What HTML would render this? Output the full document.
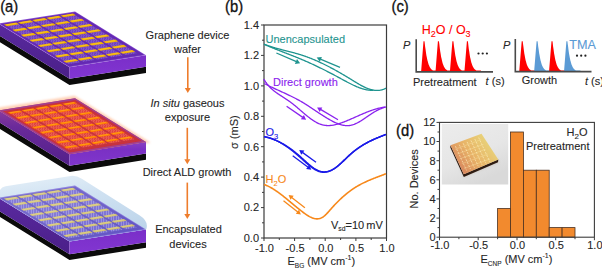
<!DOCTYPE html>
<html><head><meta charset="utf-8"><style>
html,body{margin:0;padding:0;background:#fff;width:602px;height:269px;overflow:hidden}
svg{display:block}
.t{font-family:"Liberation Sans",sans-serif;font-size:11px;fill:#262626;stroke:#262626;stroke-width:0.1px}
.big{font-family:"Liberation Sans",sans-serif;font-size:12.5px}
.lab{font-family:"Liberation Sans",sans-serif;font-size:17.2px;fill:#111;stroke:#111;stroke-width:0.35px}
.lab2{font-family:"Liberation Sans",sans-serif;font-size:17.2px;fill:#111;stroke:#111;stroke-width:0.35px}
</style></head><body>
<svg width="602" height="269" viewBox="0 0 602 269">
<defs>
<linearGradient id="gL1" x1="0" y1="0" x2="0" y2="1"><stop offset="0" stop-color="#5a2aa0"/><stop offset="1" stop-color="#4a1f88"/></linearGradient><filter id="blur1" x="-10%" y="-10%" width="120%" height="120%"><feGaussianBlur stdDeviation="1.2"/></filter><filter id="blur05"><feGaussianBlur stdDeviation="0.5"/></filter>
<linearGradient id="gR1" x1="0" y1="0" x2="0" y2="1"><stop offset="0" stop-color="#7a2ec8"/><stop offset="1" stop-color="#8236d2"/></linearGradient>
<linearGradient id="gL2" x1="0" y1="0" x2="0" y2="1"><stop offset="0" stop-color="#8a3a9e"/><stop offset="0.3" stop-color="#6a2a9a"/><stop offset="1" stop-color="#52208a"/></linearGradient>
<linearGradient id="gR2" x1="0" y1="0" x2="0" y2="1"><stop offset="0" stop-color="#8a40c0"/><stop offset="0.3" stop-color="#7a30c4"/><stop offset="1" stop-color="#8036cc"/></linearGradient>
<linearGradient id="gL3" x1="0" y1="0" x2="1" y2="0"><stop offset="0" stop-color="#5a2a9a"/><stop offset="1" stop-color="#6a2eb0"/></linearGradient>
<linearGradient id="gR3" x1="0" y1="0" x2="1" y2="0"><stop offset="0" stop-color="#7a30c8"/><stop offset="1" stop-color="#8a3ad8"/></linearGradient>
<linearGradient id="gTop2" x1="0" y1="0" x2="1" y2="1"><stop offset="0" stop-color="#d84a3a" stop-opacity="0.6"/><stop offset="1" stop-color="#e05030" stop-opacity="0.6"/></linearGradient>
<pattern id="hat1" width="2.5" height="2.5" patternUnits="userSpaceOnUse"><rect width="2.5" height="2.5" fill="#6c3abc"/><path d="M1.25,0 V2.5 M0,2.5 L2.5,0" stroke="#9a7cd6" stroke-width="0.4"/></pattern>
<pattern id="hat2" width="2.5" height="2.5" patternUnits="userSpaceOnUse"><rect width="2.5" height="2.5" fill="#dc3a3e"/><path d="M1.25,0 V2.5 M0,2.5 L2.5,0" stroke="#f88a68" stroke-width="0.4"/></pattern>
<pattern id="hat3" width="2.5" height="2.5" patternUnits="userSpaceOnUse"><rect width="2.5" height="2.5" fill="#6658cc"/><path d="M1.25,0 V2.5" stroke="#bcbcf2" stroke-width="0.5"/></pattern>
<linearGradient id="photo" x1="0" y1="0" x2="0.5" y2="1"><stop offset="0" stop-color="#ececec"/><stop offset="0.6" stop-color="#e6e6e6"/><stop offset="1" stop-color="#d9d9d9"/></linearGradient>
<linearGradient id="chip" x1="0" y1="0.8" x2="1" y2="0.1"><stop offset="0" stop-color="#d47a5a"/><stop offset="0.45" stop-color="#e8b468"/><stop offset="0.8" stop-color="#e8d078"/><stop offset="1" stop-color="#c8c460"/></linearGradient>
<linearGradient id="glass" x1="0" y1="0" x2="0.3" y2="1"><stop offset="0" stop-color="#e6f0f8"/><stop offset="0.4" stop-color="#d0e2f2"/><stop offset="1" stop-color="#bcd4ea"/></linearGradient>
<linearGradient id="glassTop" x1="0" y1="0" x2="1" y2="1"><stop offset="0" stop-color="#e8f2fb" stop-opacity="0.22"/><stop offset="0.45" stop-color="#ffffff" stop-opacity="0.18"/><stop offset="1" stop-color="#dfeaf8" stop-opacity="0.08"/></linearGradient>
</defs>
<rect x="264.0" y="25.0" width="122.5" height="213.0" fill="none" stroke="#3c3c3c" stroke-width="1.2"/>
<line x1="261.0" y1="238.0" x2="264.0" y2="238.0" stroke="#3c3c3c" stroke-width="1"/>
<line x1="262.0" y1="222.8" x2="264.0" y2="222.8" stroke="#3c3c3c" stroke-width="1"/>
<line x1="261.0" y1="207.6" x2="264.0" y2="207.6" stroke="#3c3c3c" stroke-width="1"/>
<line x1="262.0" y1="192.4" x2="264.0" y2="192.4" stroke="#3c3c3c" stroke-width="1"/>
<line x1="261.0" y1="177.1" x2="264.0" y2="177.1" stroke="#3c3c3c" stroke-width="1"/>
<line x1="262.0" y1="161.9" x2="264.0" y2="161.9" stroke="#3c3c3c" stroke-width="1"/>
<line x1="261.0" y1="146.7" x2="264.0" y2="146.7" stroke="#3c3c3c" stroke-width="1"/>
<line x1="262.0" y1="131.5" x2="264.0" y2="131.5" stroke="#3c3c3c" stroke-width="1"/>
<line x1="261.0" y1="116.3" x2="264.0" y2="116.3" stroke="#3c3c3c" stroke-width="1"/>
<line x1="262.0" y1="101.1" x2="264.0" y2="101.1" stroke="#3c3c3c" stroke-width="1"/>
<line x1="261.0" y1="85.9" x2="264.0" y2="85.9" stroke="#3c3c3c" stroke-width="1"/>
<line x1="262.0" y1="70.6" x2="264.0" y2="70.6" stroke="#3c3c3c" stroke-width="1"/>
<line x1="261.0" y1="55.4" x2="264.0" y2="55.4" stroke="#3c3c3c" stroke-width="1"/>
<line x1="262.0" y1="40.2" x2="264.0" y2="40.2" stroke="#3c3c3c" stroke-width="1"/>
<line x1="261.0" y1="25.0" x2="264.0" y2="25.0" stroke="#3c3c3c" stroke-width="1"/>
<line x1="264.0" y1="238.0" x2="264.0" y2="241.0" stroke="#3c3c3c" stroke-width="1"/>
<line x1="279.3" y1="238.0" x2="279.3" y2="240.0" stroke="#3c3c3c" stroke-width="1"/>
<line x1="294.6" y1="238.0" x2="294.6" y2="241.0" stroke="#3c3c3c" stroke-width="1"/>
<line x1="309.9" y1="238.0" x2="309.9" y2="240.0" stroke="#3c3c3c" stroke-width="1"/>
<line x1="325.2" y1="238.0" x2="325.2" y2="241.0" stroke="#3c3c3c" stroke-width="1"/>
<line x1="340.6" y1="238.0" x2="340.6" y2="240.0" stroke="#3c3c3c" stroke-width="1"/>
<line x1="355.9" y1="238.0" x2="355.9" y2="241.0" stroke="#3c3c3c" stroke-width="1"/>
<line x1="371.2" y1="238.0" x2="371.2" y2="240.0" stroke="#3c3c3c" stroke-width="1"/>
<line x1="386.5" y1="238.0" x2="386.5" y2="241.0" stroke="#3c3c3c" stroke-width="1"/>
<text x="259" y="241.8" text-anchor="end" class="t">0.0</text>
<text x="259" y="211.4" text-anchor="end" class="t">0.2</text>
<text x="259" y="180.9" text-anchor="end" class="t">0.4</text>
<text x="259" y="150.5" text-anchor="end" class="t">0.6</text>
<text x="259" y="120.1" text-anchor="end" class="t">0.8</text>
<text x="259" y="89.7" text-anchor="end" class="t">1.0</text>
<text x="259" y="59.2" text-anchor="end" class="t">1.2</text>
<text x="259" y="28.8" text-anchor="end" class="t">1.4</text>
<text x="264.5" y="251.8" text-anchor="middle" class="t">-1.0</text>
<text x="295.1" y="251.8" text-anchor="middle" class="t">-0.5</text>
<text x="325.8" y="251.8" text-anchor="middle" class="t">0.0</text>
<text x="356.4" y="251.8" text-anchor="middle" class="t">0.5</text>
<text x="387.0" y="251.8" text-anchor="middle" class="t">1.0</text>
<path d="M264.00,44.19 L264.50,44.38 L265.00,44.57 L265.50,44.76 L266.00,44.95 L266.50,45.13 L267.00,45.31 L267.50,45.48 L268.00,45.66 L268.50,45.83 L269.00,46.00 L269.50,46.17 L270.00,46.33 L270.50,46.49 L271.00,46.65 L271.50,46.81 L272.00,46.97 L272.50,47.12 L273.00,47.27 L273.50,47.42 L274.00,47.57 L274.50,47.72 L275.00,47.86 L275.50,48.01 L276.00,48.15 L276.50,48.29 L277.00,48.43 L277.50,48.57 L278.00,48.70 L278.50,48.84 L279.00,48.97 L279.50,49.11 L280.00,49.24 L280.50,49.37 L281.00,49.50 L281.50,49.63 L282.00,49.76 L282.50,49.89 L283.00,50.02 L283.50,50.15 L284.00,50.27 L284.50,50.40 L285.00,50.53 L285.50,50.66 L286.00,50.78 L286.50,50.91 L287.00,51.04 L287.50,51.16 L288.00,51.29 L288.50,51.42 L289.00,51.55 L289.50,51.67 L290.00,51.80 L290.50,51.93 L291.00,52.06 L291.50,52.19 L292.00,52.32 L292.50,52.45 L293.00,52.59 L293.50,52.72 L294.00,52.86 L294.50,52.99 L295.00,53.13 L295.50,53.27 L296.00,53.41 L296.50,53.55 L297.00,53.69 L297.50,53.83 L298.00,53.98 L298.50,54.13 L299.00,54.27 L299.50,54.43 L300.00,54.58 L300.50,54.73 L301.00,54.89 L301.50,55.05 L302.00,55.21 L302.50,55.37 L303.00,55.53 L303.50,55.70 L304.00,55.87 L304.50,56.04 L305.00,56.22 L305.50,56.39 L306.00,56.57 L306.50,56.75 L307.00,56.93 L307.50,57.12 L308.00,57.30 L308.50,57.49 L309.00,57.68 L309.50,57.87 L310.00,58.07 L310.50,58.26 L311.00,58.46 L311.50,58.66 L312.00,58.86 L312.50,59.06 L313.00,59.27 L313.50,59.48 L314.00,59.69 L314.50,59.90 L315.00,60.11 L315.50,60.33 L316.00,60.54 L316.50,60.76 L317.00,60.98 L317.50,61.20 L318.00,61.43 L318.50,61.65 L319.00,61.88 L319.50,62.11 L320.00,62.34 L320.50,62.57 L321.00,62.81 L321.50,63.04 L322.00,63.28 L322.50,63.52 L323.00,63.76 L323.50,64.00 L324.00,64.25 L324.50,64.49 L325.00,64.74 L325.50,64.99 L326.00,65.24 L326.50,65.49 L327.00,65.74 L327.50,65.99 L328.00,66.25 L328.50,66.51 L329.00,66.77 L329.50,67.03 L330.00,67.29 L330.50,67.55 L331.00,67.82 L331.50,68.08 L332.00,68.35 L332.50,68.62 L333.00,68.89 L333.50,69.16 L334.00,69.43 L334.50,69.70 L335.00,69.98 L335.50,70.25 L336.00,70.53 L336.50,70.81 L337.00,71.09 L337.50,71.37 L338.00,71.65 L338.50,71.94 L339.00,72.22 L339.50,72.51 L340.00,72.79 L340.50,73.08 L341.00,73.37 L341.50,73.66 L342.00,73.95 L342.50,74.24 L343.00,74.54 L343.50,74.83 L344.00,75.12 L344.50,75.42 L345.00,75.72 L345.50,76.02 L346.00,76.32 L346.50,76.62 L347.00,76.92 L347.50,77.22 L348.00,77.52 L348.50,77.82 L349.00,78.13 L349.50,78.43 L350.00,78.74 L350.50,79.05 L351.00,79.35 L351.50,79.66 L352.00,79.97 L352.50,80.28 L353.00,80.59 L353.50,80.90 L354.00,81.21 L354.50,81.52 L355.00,81.82 L355.50,82.13 L356.00,82.43 L356.50,82.74 L357.00,83.04 L357.50,83.34 L358.00,83.63 L358.50,83.93 L359.00,84.22 L359.50,84.50 L360.00,84.79 L360.50,85.07 L361.00,85.34 L361.50,85.61 L362.00,85.88 L362.50,86.14 L363.00,86.40 L363.50,86.65 L364.00,86.90 L364.50,87.14 L365.00,87.37 L365.50,87.60 L366.00,87.82 L366.50,88.03 L367.00,88.24 L367.50,88.44 L368.00,88.63 L368.50,88.81 L369.00,88.99 L369.50,89.15 L370.00,89.31 L370.50,89.46 L371.00,89.60 L371.50,89.73 L372.00,89.85 L372.50,89.96 L373.00,90.06 L373.50,90.14 L374.00,90.22 L374.50,90.29 L375.00,90.34 L375.50,90.39 L376.00,90.42 L376.50,90.44 L377.00,90.45 L377.50,90.44 L378.00,90.42 L378.50,90.39 L379.00,90.35 L379.50,90.29 L380.00,90.22 L380.50,90.13 L381.00,90.03 L381.50,89.91 L382.00,89.78 L382.50,89.63 L383.00,89.47 L383.50,89.29 L384.00,89.10 L384.50,88.89 L385.00,88.66 L385.50,88.42 L386.00,88.15" fill="none" stroke="#1f948f" stroke-width="1.3"/>
<path d="M264.00,44.22 L264.50,44.45 L265.00,44.67 L265.50,44.89 L266.00,45.11 L266.50,45.33 L267.00,45.55 L267.50,45.76 L268.00,45.98 L268.50,46.19 L269.00,46.40 L269.50,46.61 L270.00,46.82 L270.50,47.03 L271.00,47.24 L271.50,47.45 L272.00,47.66 L272.50,47.86 L273.00,48.07 L273.50,48.27 L274.00,48.47 L274.50,48.68 L275.00,48.88 L275.50,49.08 L276.00,49.28 L276.50,49.48 L277.00,49.68 L277.50,49.88 L278.00,50.07 L278.50,50.27 L279.00,50.47 L279.50,50.66 L280.00,50.86 L280.50,51.06 L281.00,51.25 L281.50,51.45 L282.00,51.64 L282.50,51.84 L283.00,52.03 L283.50,52.22 L284.00,52.42 L284.50,52.61 L285.00,52.81 L285.50,53.00 L286.00,53.19 L286.50,53.39 L287.00,53.58 L287.50,53.77 L288.00,53.97 L288.50,54.16 L289.00,54.36 L289.50,54.55 L290.00,54.74 L290.50,54.94 L291.00,55.14 L291.50,55.33 L292.00,55.53 L292.50,55.72 L293.00,55.92 L293.50,56.12 L294.00,56.31 L294.50,56.51 L295.00,56.71 L295.50,56.91 L296.00,57.11 L296.50,57.31 L297.00,57.51 L297.50,57.72 L298.00,57.92 L298.50,58.12 L299.00,58.33 L299.50,58.53 L300.00,58.74 L300.50,58.95 L301.00,59.16 L301.50,59.36 L302.00,59.57 L302.50,59.79 L303.00,60.00 L303.50,60.21 L304.00,60.43 L304.50,60.64 L305.00,60.86 L305.50,61.08 L306.00,61.29 L306.50,61.51 L307.00,61.73 L307.50,61.96 L308.00,62.18 L308.50,62.40 L309.00,62.63 L309.50,62.85 L310.00,63.08 L310.50,63.31 L311.00,63.53 L311.50,63.76 L312.00,63.99 L312.50,64.22 L313.00,64.46 L313.50,64.69 L314.00,64.92 L314.50,65.16 L315.00,65.39 L315.50,65.63 L316.00,65.87 L316.50,66.11 L317.00,66.34 L317.50,66.58 L318.00,66.83 L318.50,67.07 L319.00,67.31 L319.50,67.55 L320.00,67.80 L320.50,68.04 L321.00,68.29 L321.50,68.53 L322.00,68.78 L322.50,69.03 L323.00,69.28 L323.50,69.53 L324.00,69.78 L324.50,70.03 L325.00,70.28 L325.50,70.54 L326.00,70.79 L326.50,71.04 L327.00,71.30 L327.50,71.56 L328.00,71.81 L328.50,72.07 L329.00,72.33 L329.50,72.59 L330.00,72.85 L330.50,73.11 L331.00,73.37 L331.50,73.63 L332.00,73.89 L332.50,74.15 L333.00,74.42 L333.50,74.68 L334.00,74.94 L334.50,75.21 L335.00,75.48 L335.50,75.74 L336.00,76.01 L336.50,76.28 L337.00,76.55 L337.50,76.82 L338.00,77.09 L338.50,77.36 L339.00,77.63 L339.50,77.90 L340.00,78.17 L340.50,78.44 L341.00,78.72 L341.50,78.99 L342.00,79.26 L342.50,79.54 L343.00,79.81 L343.50,80.08 L344.00,80.35 L344.50,80.63 L345.00,80.90 L345.50,81.17 L346.00,81.44 L346.50,81.70 L347.00,81.97 L347.50,82.24 L348.00,82.50 L348.50,82.76 L349.00,83.02 L349.50,83.28 L350.00,83.53 L350.50,83.79 L351.00,84.04 L351.50,84.29 L352.00,84.53 L352.50,84.77 L353.00,85.01 L353.50,85.25 L354.00,85.48 L354.50,85.71 L355.00,85.94 L355.50,86.16 L356.00,86.37 L356.50,86.59 L357.00,86.80 L357.50,87.00 L358.00,87.20 L358.50,87.40 L359.00,87.59 L359.50,87.77 L360.00,87.95 L360.50,88.13 L361.00,88.30 L361.50,88.46 L362.00,88.62 L362.50,88.78 L363.00,88.92 L363.50,89.06 L364.00,89.20 L364.50,89.32 L365.00,89.45 L365.50,89.56 L366.00,89.67 L366.50,89.77 L367.00,89.86 L367.50,89.95 L368.00,90.03 L368.50,90.10 L369.00,90.16 L369.50,90.21 L370.00,90.26 L370.50,90.30 L371.00,90.33 L371.50,90.35 L372.00,90.37 L372.50,90.37 L373.00,90.37 L373.50,90.35" fill="none" stroke="#1f948f" stroke-width="1.3"/>
<path d="M264.20,83.47 L264.70,83.73 L265.20,83.99 L265.70,84.25 L266.20,84.51 L266.70,84.76 L267.20,85.01 L267.70,85.26 L268.20,85.51 L268.70,85.76 L269.20,86.01 L269.70,86.25 L270.20,86.49 L270.70,86.73 L271.20,86.97 L271.70,87.21 L272.20,87.45 L272.70,87.68 L273.20,87.92 L273.70,88.15 L274.20,88.39 L274.70,88.62 L275.20,88.85 L275.70,89.08 L276.20,89.31 L276.70,89.54 L277.20,89.77 L277.70,90.00 L278.20,90.23 L278.70,90.45 L279.20,90.68 L279.70,90.91 L280.20,91.14 L280.70,91.36 L281.20,91.59 L281.70,91.82 L282.20,92.05 L282.70,92.27 L283.20,92.50 L283.70,92.73 L284.20,92.96 L284.70,93.19 L285.20,93.42 L285.70,93.65 L286.20,93.88 L286.70,94.12 L287.20,94.35 L287.70,94.59 L288.20,94.82 L288.70,95.06 L289.20,95.30 L289.70,95.54 L290.20,95.78 L290.70,96.02 L291.20,96.26 L291.70,96.51 L292.20,96.75 L292.70,97.00 L293.20,97.25 L293.70,97.50 L294.20,97.76 L294.70,98.01 L295.20,98.27 L295.70,98.53 L296.20,98.79 L296.70,99.06 L297.20,99.32 L297.70,99.59 L298.20,99.87 L298.70,100.14 L299.20,100.42 L299.70,100.70 L300.20,100.98 L300.70,101.26 L301.20,101.55 L301.70,101.84 L302.20,102.13 L302.70,102.43 L303.20,102.73 L303.70,103.03 L304.20,103.34 L304.70,103.65 L305.20,103.96 L305.70,104.27 L306.20,104.59 L306.70,104.90 L307.20,105.22 L307.70,105.55 L308.20,105.87 L308.70,106.19 L309.20,106.52 L309.70,106.85 L310.20,107.18 L310.70,107.51 L311.20,107.84 L311.70,108.17 L312.20,108.50 L312.70,108.84 L313.20,109.17 L313.70,109.51 L314.20,109.84 L314.70,110.18 L315.20,110.51 L315.70,110.85 L316.20,111.18 L316.70,111.52 L317.20,111.85 L317.70,112.18 L318.20,112.52 L318.70,112.85 L319.20,113.18 L319.70,113.51 L320.20,113.84 L320.70,114.17 L321.20,114.49 L321.70,114.82 L322.20,115.14 L322.70,115.46 L323.20,115.78 L323.70,116.10 L324.20,116.41 L324.70,116.73 L325.20,117.04 L325.70,117.34 L326.20,117.65 L326.70,117.95 L327.20,118.25 L327.70,118.55 L328.20,118.84 L328.70,119.13 L329.20,119.42 L329.70,119.70 L330.20,119.98 L330.70,120.26 L331.20,120.53 L331.70,120.80 L332.20,121.06 L332.70,121.32 L333.20,121.58 L333.70,121.83 L334.20,122.07 L334.70,122.31 L335.20,122.54 L335.70,122.77 L336.20,122.99 L336.70,123.20 L337.20,123.41 L337.70,123.61 L338.20,123.80 L338.70,123.99 L339.20,124.16 L339.70,124.33 L340.20,124.49 L340.70,124.64 L341.20,124.78 L341.70,124.91 L342.20,125.03 L342.70,125.14 L343.20,125.24 L343.70,125.33 L344.20,125.41 L344.70,125.48 L345.20,125.54 L345.70,125.59 L346.20,125.62 L346.70,125.64 L347.20,125.65 L347.70,125.64 L348.20,125.63 L348.70,125.60 L349.20,125.55 L349.70,125.49 L350.20,125.42 L350.70,125.33 L351.20,125.23 L351.70,125.11 L352.20,124.98 L352.70,124.84 L353.20,124.68 L353.70,124.50 L354.20,124.32 L354.70,124.12 L355.20,123.91 L355.70,123.69 L356.20,123.46 L356.70,123.22 L357.20,122.97 L357.70,122.71 L358.20,122.44 L358.70,122.16 L359.20,121.88 L359.70,121.58 L360.20,121.28 L360.70,120.98 L361.20,120.66 L361.70,120.35 L362.20,120.02 L362.70,119.70 L363.20,119.37 L363.70,119.03 L364.20,118.70 L364.70,118.36 L365.20,118.01 L365.70,117.67 L366.20,117.33 L366.70,116.98 L367.20,116.63 L367.70,116.29 L368.20,115.95 L368.70,115.60 L369.20,115.26 L369.70,114.92 L370.20,114.59 L370.70,114.25 L371.20,113.92 L371.70,113.60 L372.20,113.28 L372.70,112.96 L373.20,112.65 L373.70,112.35 L374.20,112.05 L374.70,111.76 L375.20,111.48 L375.70,111.20 L376.20,110.93 L376.70,110.67 L377.20,110.41 L377.70,110.16 L378.20,109.91 L378.70,109.67 L379.20,109.44 L379.70,109.21 L380.20,108.99 L380.70,108.78 L381.20,108.57 L381.70,108.37 L382.20,108.18 L382.70,107.99 L383.20,107.81 L383.70,107.63 L384.20,107.46 L384.70,107.30 L385.20,107.15 L385.70,107.00" fill="none" stroke="#8a22ee" stroke-width="1.3"/>
<path d="M263.70,78.99 L264.20,79.80 L264.70,80.57 L265.20,81.32 L265.70,82.05 L266.20,82.74 L266.70,83.41 L267.20,84.06 L267.70,84.68 L268.20,85.28 L268.70,85.86 L269.20,86.41 L269.70,86.95 L270.20,87.47 L270.70,87.97 L271.20,88.45 L271.70,88.92 L272.20,89.37 L272.70,89.81 L273.20,90.24 L273.70,90.65 L274.20,91.05 L274.70,91.43 L275.20,91.81 L275.70,92.18 L276.20,92.55 L276.70,92.90 L277.20,93.25 L277.70,93.59 L278.20,93.93 L278.70,94.27 L279.20,94.60 L279.70,94.93 L280.20,95.26 L280.70,95.58 L281.20,95.91 L281.70,96.23 L282.20,96.56 L282.70,96.88 L283.20,97.20 L283.70,97.53 L284.20,97.85 L284.70,98.18 L285.20,98.51 L285.70,98.84 L286.20,99.17 L286.70,99.50 L287.20,99.84 L287.70,100.18 L288.20,100.53 L288.70,100.88 L289.20,101.23 L289.70,101.59 L290.20,101.95 L290.70,102.32 L291.20,102.69 L291.70,103.07 L292.20,103.45 L292.70,103.84 L293.20,104.24 L293.70,104.64 L294.20,105.04 L294.70,105.45 L295.20,105.86 L295.70,106.28 L296.20,106.70 L296.70,107.12 L297.20,107.54 L297.70,107.97 L298.20,108.40 L298.70,108.83 L299.20,109.26 L299.70,109.69 L300.20,110.12 L300.70,110.55 L301.20,110.98 L301.70,111.41 L302.20,111.84 L302.70,112.27 L303.20,112.70 L303.70,113.13 L304.20,113.55 L304.70,113.97 L305.20,114.39 L305.70,114.81 L306.20,115.22 L306.70,115.63 L307.20,116.03 L307.70,116.44 L308.20,116.83 L308.70,117.22 L309.20,117.61 L309.70,117.99 L310.20,118.37 L310.70,118.73 L311.20,119.10 L311.70,119.45 L312.20,119.80 L312.70,120.14 L313.20,120.47 L313.70,120.80 L314.20,121.12 L314.70,121.42 L315.20,121.72 L315.70,122.01 L316.20,122.29 L316.70,122.56 L317.20,122.82 L317.70,123.07 L318.20,123.31 L318.70,123.54 L319.20,123.75 L319.70,123.96 L320.20,124.15 L320.70,124.33 L321.20,124.49 L321.70,124.64 L322.20,124.78 L322.70,124.91 L323.20,125.03 L323.70,125.13 L324.20,125.22 L324.70,125.30 L325.20,125.37 L325.70,125.43 L326.20,125.48 L326.70,125.51 L327.20,125.54 L327.70,125.55 L328.20,125.56 L328.70,125.55 L329.20,125.54 L329.70,125.52 L330.20,125.48 L330.70,125.44 L331.20,125.39 L331.70,125.34 L332.20,125.27 L332.70,125.20 L333.20,125.11 L333.70,125.02 L334.20,124.93 L334.70,124.82 L335.20,124.71 L335.70,124.60 L336.20,124.47 L336.70,124.34 L337.20,124.21 L337.70,124.07 L338.20,123.92 L338.70,123.77 L339.20,123.61 L339.70,123.45 L340.20,123.29 L340.70,123.12 L341.20,122.94 L341.70,122.76 L342.20,122.58 L342.70,122.40 L343.20,122.21 L343.70,122.02 L344.20,121.82 L344.70,121.63 L345.20,121.43 L345.70,121.23 L346.20,121.03 L346.70,120.82 L347.20,120.62 L347.70,120.41 L348.20,120.20 L348.70,119.99 L349.20,119.78 L349.70,119.56 L350.20,119.35 L350.70,119.13 L351.20,118.92 L351.70,118.70 L352.20,118.48 L352.70,118.26 L353.20,118.04 L353.70,117.82 L354.20,117.60 L354.70,117.38 L355.20,117.16 L355.70,116.94 L356.20,116.72 L356.70,116.49 L357.20,116.27 L357.70,116.05 L358.20,115.83 L358.70,115.61 L359.20,115.39 L359.70,115.17 L360.20,114.95 L360.70,114.74 L361.20,114.52 L361.70,114.30 L362.20,114.09 L362.70,113.87 L363.20,113.66 L363.70,113.45 L364.20,113.24 L364.70,113.03 L365.20,112.83 L365.70,112.62 L366.20,112.42 L366.70,112.22 L367.20,112.02 L367.70,111.83 L368.20,111.63 L368.70,111.44 L369.20,111.25 L369.70,111.06 L370.20,110.88 L370.70,110.70 L371.20,110.52 L371.70,110.34 L372.20,110.17 L372.70,110.00 L373.20,109.84 L373.70,109.67 L374.20,109.51 L374.70,109.36 L375.20,109.20 L375.70,109.06 L376.20,108.91 L376.70,108.77 L377.20,108.63 L377.70,108.50 L378.20,108.37 L378.70,108.24 L379.20,108.12 L379.70,108.01 L380.20,107.90 L380.70,107.79 L381.20,107.69 L381.70,107.59 L382.20,107.50 L382.70,107.41 L383.20,107.33 L383.70,107.25 L384.20,107.18 L384.70,107.11 L385.20,107.05 L385.70,107.00" fill="none" stroke="#8a22ee" stroke-width="1.3"/>
<path d="M264.00,136.63 L264.50,136.73 L265.00,136.83 L265.50,136.94 L266.00,137.05 L266.50,137.17 L267.00,137.30 L267.50,137.43 L268.00,137.56 L268.50,137.70 L269.00,137.84 L269.50,137.99 L270.00,138.15 L270.50,138.31 L271.00,138.47 L271.50,138.64 L272.00,138.82 L272.50,139.00 L273.00,139.18 L273.50,139.37 L274.00,139.57 L274.50,139.77 L275.00,139.97 L275.50,140.18 L276.00,140.40 L276.50,140.62 L277.00,140.85 L277.50,141.08 L278.00,141.31 L278.50,141.55 L279.00,141.79 L279.50,142.04 L280.00,142.30 L280.50,142.56 L281.00,142.82 L281.50,143.09 L282.00,143.37 L282.50,143.65 L283.00,143.93 L283.50,144.22 L284.00,144.51 L284.50,144.81 L285.00,145.11 L285.50,145.42 L286.00,145.73 L286.50,146.05 L287.00,146.37 L287.50,146.70 L288.00,147.03 L288.50,147.37 L289.00,147.71 L289.50,148.05 L290.00,148.40 L290.50,148.76 L291.00,149.12 L291.50,149.48 L292.00,149.85 L292.50,150.22 L293.00,150.60 L293.50,150.98 L294.00,151.37 L294.50,151.76 L295.00,152.16 L295.50,152.56 L296.00,152.97 L296.50,153.38 L297.00,153.79 L297.50,154.21 L298.00,154.64 L298.50,155.06 L299.00,155.50 L299.50,155.93 L300.00,156.38 L300.50,156.82 L301.00,157.27 L301.50,157.72 L302.00,158.18 L302.50,158.63 L303.00,159.09 L303.50,159.54 L304.00,160.00 L304.50,160.46 L305.00,160.91 L305.50,161.37 L306.00,161.82 L306.50,162.27 L307.00,162.71 L307.50,163.15 L308.00,163.59 L308.50,164.02 L309.00,164.45 L309.50,164.87 L310.00,165.28 L310.50,165.69 L311.00,166.09 L311.50,166.48 L312.00,166.86 L312.50,167.23 L313.00,167.59 L313.50,167.94 L314.00,168.28 L314.50,168.60 L315.00,168.92 L315.50,169.22 L316.00,169.51 L316.50,169.78 L317.00,170.04 L317.50,170.29 L318.00,170.52 L318.50,170.73 L319.00,170.93 L319.50,171.10 L320.00,171.26 L320.50,171.41 L321.00,171.53 L321.50,171.63 L322.00,171.72 L322.50,171.79 L323.00,171.84 L323.50,171.88 L324.00,171.89 L324.50,171.89 L325.00,171.87 L325.50,171.84 L326.00,171.78 L326.50,171.71 L327.00,171.63 L327.50,171.53 L328.00,171.41 L328.50,171.27 L329.00,171.12 L329.50,170.95 L330.00,170.77 L330.50,170.57 L331.00,170.35 L331.50,170.12 L332.00,169.88 L332.50,169.62 L333.00,169.34 L333.50,169.05 L334.00,168.74 L334.50,168.42 L335.00,168.09 L335.50,167.74 L336.00,167.38 L336.50,167.01 L337.00,166.62 L337.50,166.23 L338.00,165.82 L338.50,165.40 L339.00,164.98 L339.50,164.55 L340.00,164.11 L340.50,163.66 L341.00,163.20 L341.50,162.74 L342.00,162.28 L342.50,161.81 L343.00,161.34 L343.50,160.86 L344.00,160.38 L344.50,159.90 L345.00,159.42 L345.50,158.94 L346.00,158.45 L346.50,157.97 L347.00,157.49 L347.50,157.02 L348.00,156.54 L348.50,156.07 L349.00,155.60 L349.50,155.14 L350.00,154.69 L350.50,154.24 L351.00,153.79 L351.50,153.36 L352.00,152.93 L352.50,152.50 L353.00,152.09 L353.50,151.68 L354.00,151.27 L354.50,150.88 L355.00,150.49 L355.50,150.10 L356.00,149.72 L356.50,149.35 L357.00,148.99 L357.50,148.62 L358.00,148.27 L358.50,147.92 L359.00,147.58 L359.50,147.24 L360.00,146.91 L360.50,146.58 L361.00,146.26 L361.50,145.94 L362.00,145.62 L362.50,145.32 L363.00,145.01 L363.50,144.71 L364.00,144.42 L364.50,144.13 L365.00,143.84 L365.50,143.56 L366.00,143.29 L366.50,143.01 L367.00,142.74 L367.50,142.48 L368.00,142.22 L368.50,141.96 L369.00,141.70 L369.50,141.45 L370.00,141.20 L370.50,140.96 L371.00,140.72 L371.50,140.48 L372.00,140.24 L372.50,140.01 L373.00,139.78 L373.50,139.55 L374.00,139.33 L374.50,139.10 L375.00,138.88 L375.50,138.66 L376.00,138.45 L376.50,138.23 L377.00,138.02 L377.50,137.81 L378.00,137.60 L378.50,137.40 L379.00,137.19 L379.50,136.99 L380.00,136.78 L380.50,136.58 L381.00,136.38 L381.50,136.18 L382.00,135.98 L382.50,135.78 L383.00,135.59 L383.50,135.39 L384.00,135.19 L384.50,135.00 L385.00,134.80 L385.50,134.61 L386.00,134.41" fill="none" stroke="#1a1ae8" stroke-width="1.5"/>
<path d="M264.00,136.67 L264.50,136.75 L265.00,136.84 L265.50,136.93 L266.00,137.03 L266.50,137.13 L267.00,137.25 L267.50,137.37 L268.00,137.50 L268.50,137.63 L269.00,137.77 L269.50,137.92 L270.00,138.07 L270.50,138.23 L271.00,138.40 L271.50,138.57 L272.00,138.75 L272.50,138.93 L273.00,139.12 L273.50,139.32 L274.00,139.52 L274.50,139.73 L275.00,139.95 L275.50,140.17 L276.00,140.40 L276.50,140.63 L277.00,140.87 L277.50,141.12 L278.00,141.37 L278.50,141.62 L279.00,141.89 L279.50,142.15 L280.00,142.43 L280.50,142.70 L281.00,142.99 L281.50,143.28 L282.00,143.57 L282.50,143.87 L283.00,144.17 L283.50,144.48 L284.00,144.80 L284.50,145.12 L285.00,145.44 L285.50,145.77 L286.00,146.10 L286.50,146.44 L287.00,146.79 L287.50,147.14 L288.00,147.49 L288.50,147.85 L289.00,148.21 L289.50,148.57 L290.00,148.95 L290.50,149.32 L291.00,149.70 L291.50,150.08 L292.00,150.47 L292.50,150.86 L293.00,151.26 L293.50,151.66 L294.00,152.07 L294.50,152.47 L295.00,152.89 L295.50,153.30 L296.00,153.72 L296.50,154.14 L297.00,154.57 L297.50,155.00 L298.00,155.44 L298.50,155.87 L299.00,156.32 L299.50,156.76 L300.00,157.21 L300.50,157.66 L301.00,158.11 L301.50,158.57 L302.00,159.02 L302.50,159.48 L303.00,159.93 L303.50,160.39 L304.00,160.85 L304.50,161.30 L305.00,161.75 L305.50,162.20 L306.00,162.65 L306.50,163.09 L307.00,163.53 L307.50,163.96 L308.00,164.39 L308.50,164.81 L309.00,165.23 L309.50,165.64 L310.00,166.04 L310.50,166.44 L311.00,166.82 L311.50,167.20 L312.00,167.57 L312.50,167.93 L313.00,168.27 L313.50,168.61 L314.00,168.94 L314.50,169.25 L315.00,169.55 L315.50,169.83 L316.00,170.11 L316.50,170.36 L317.00,170.61 L317.50,170.84 L318.00,171.05 L318.50,171.24 L319.00,171.42 L319.50,171.58 L320.00,171.73 L320.50,171.85 L321.00,171.96 L321.50,172.05 L322.00,172.12 L322.50,172.17 L323.00,172.20 L323.50,172.22 L324.00,172.22 L324.50,172.20 L325.00,172.17 L325.50,172.12 L326.00,172.05 L326.50,171.96 L327.00,171.86 L327.50,171.74 L328.00,171.61 L328.50,171.46 L329.00,171.29 L329.50,171.11 L330.00,170.92 L330.50,170.70 L331.00,170.48 L331.50,170.24 L332.00,169.98 L332.50,169.71 L333.00,169.42 L333.50,169.12 L334.00,168.81 L334.50,168.48 L335.00,168.14 L335.50,167.78 L336.00,167.42 L336.50,167.04 L337.00,166.65 L337.50,166.25 L338.00,165.84 L338.50,165.42 L339.00,164.99 L339.50,164.56 L340.00,164.12 L340.50,163.67 L341.00,163.21 L341.50,162.75 L342.00,162.29 L342.50,161.82 L343.00,161.34 L343.50,160.87 L344.00,160.39 L344.50,159.91 L345.00,159.43 L345.50,158.95 L346.00,158.47 L346.50,157.99 L347.00,157.51 L347.50,157.04 L348.00,156.56 L348.50,156.09 L349.00,155.63 L349.50,155.17 L350.00,154.71 L350.50,154.26 L351.00,153.82 L351.50,153.38 L352.00,152.95 L352.50,152.53 L353.00,152.11 L353.50,151.70 L354.00,151.30 L354.50,150.90 L355.00,150.51 L355.50,150.13 L356.00,149.75 L356.50,149.37 L357.00,149.01 L357.50,148.64 L358.00,148.29 L358.50,147.94 L359.00,147.59 L359.50,147.25 L360.00,146.92 L360.50,146.59 L361.00,146.26 L361.50,145.94 L362.00,145.63 L362.50,145.32 L363.00,145.01 L363.50,144.71 L364.00,144.42 L364.50,144.13 L365.00,143.84 L365.50,143.55 L366.00,143.27 L366.50,143.00 L367.00,142.73 L367.50,142.46 L368.00,142.20 L368.50,141.94 L369.00,141.68 L369.50,141.43 L370.00,141.18 L370.50,140.93 L371.00,140.69 L371.50,140.45 L372.00,140.21 L372.50,139.98 L373.00,139.75 L373.50,139.52 L374.00,139.29 L374.50,139.07 L375.00,138.85 L375.50,138.63 L376.00,138.41 L376.50,138.20 L377.00,137.99 L377.50,137.78 L378.00,137.57 L378.50,137.36 L379.00,137.16 L379.50,136.95 L380.00,136.75 L380.50,136.55 L381.00,136.35 L381.50,136.16 L382.00,135.96 L382.50,135.77 L383.00,135.57 L383.50,135.38 L384.00,135.19 L384.50,134.99 L385.00,134.80 L385.50,134.61 L386.00,134.42" fill="none" stroke="#1a1ae8" stroke-width="1.5"/>
<path d="M264.00,184.45 L264.50,184.63 L265.00,184.82 L265.50,185.01 L266.00,185.22 L266.50,185.43 L267.00,185.65 L267.50,185.88 L268.00,186.12 L268.50,186.36 L269.00,186.61 L269.50,186.87 L270.00,187.14 L270.50,187.41 L271.00,187.69 L271.50,187.97 L272.00,188.26 L272.50,188.56 L273.00,188.87 L273.50,189.18 L274.00,189.49 L274.50,189.82 L275.00,190.14 L275.50,190.47 L276.00,190.81 L276.50,191.15 L277.00,191.50 L277.50,191.85 L278.00,192.21 L278.50,192.57 L279.00,192.93 L279.50,193.30 L280.00,193.68 L280.50,194.05 L281.00,194.43 L281.50,194.82 L282.00,195.20 L282.50,195.59 L283.00,195.98 L283.50,196.38 L284.00,196.78 L284.50,197.18 L285.00,197.58 L285.50,197.98 L286.00,198.39 L286.50,198.80 L287.00,199.21 L287.50,199.62 L288.00,200.03 L288.50,200.45 L289.00,200.86 L289.50,201.28 L290.00,201.69 L290.50,202.11 L291.00,202.53 L291.50,202.94 L292.00,203.36 L292.50,203.78 L293.00,204.20 L293.50,204.61 L294.00,205.03 L294.50,205.44 L295.00,205.86 L295.50,206.27 L296.00,206.69 L296.50,207.10 L297.00,207.51 L297.50,207.91 L298.00,208.32 L298.50,208.72 L299.00,209.12 L299.50,209.52 L300.00,209.92 L300.50,210.31 L301.00,210.71 L301.50,211.09 L302.00,211.48 L302.50,211.86 L303.00,212.24 L303.50,212.61 L304.00,212.99 L304.50,213.35 L305.00,213.71 L305.50,214.07 L306.00,214.41 L306.50,214.76 L307.00,215.09 L307.50,215.41 L308.00,215.72 L308.50,216.03 L309.00,216.32 L309.50,216.60 L310.00,216.86 L310.50,217.12 L311.00,217.35 L311.50,217.58 L312.00,217.79 L312.50,217.98 L313.00,218.16 L313.50,218.31 L314.00,218.45 L314.50,218.57 L315.00,218.67 L315.50,218.75 L316.00,218.81 L316.50,218.85 L317.00,218.86 L317.50,218.85 L318.00,218.81 L318.50,218.75 L319.00,218.67 L319.50,218.56 L320.00,218.42 L320.50,218.25 L321.00,218.05 L321.50,217.83 L322.00,217.57 L322.50,217.29 L323.00,216.97 L323.50,216.62 L324.00,216.24 L324.50,215.83 L325.00,215.39 L325.50,214.93 L326.00,214.45 L326.50,213.94 L327.00,213.42 L327.50,212.89 L328.00,212.34 L328.50,211.78 L329.00,211.21 L329.50,210.64 L330.00,210.07 L330.50,209.50 L331.00,208.93 L331.50,208.36 L332.00,207.80 L332.50,207.24 L333.00,206.69 L333.50,206.15 L334.00,205.60 L334.50,205.07 L335.00,204.54 L335.50,204.01 L336.00,203.49 L336.50,202.98 L337.00,202.47 L337.50,201.96 L338.00,201.46 L338.50,200.97 L339.00,200.48 L339.50,199.99 L340.00,199.52 L340.50,199.04 L341.00,198.57 L341.50,198.11 L342.00,197.65 L342.50,197.20 L343.00,196.75 L343.50,196.31 L344.00,195.88 L344.50,195.44 L345.00,195.02 L345.50,194.60 L346.00,194.18 L346.50,193.77 L347.00,193.37 L347.50,192.97 L348.00,192.57 L348.50,192.18 L349.00,191.80 L349.50,191.42 L350.00,191.05 L350.50,190.68 L351.00,190.32 L351.50,189.96 L352.00,189.61 L352.50,189.27 L353.00,188.93 L353.50,188.59 L354.00,188.26 L354.50,187.94 L355.00,187.62 L355.50,187.30 L356.00,187.00 L356.50,186.69 L357.00,186.39 L357.50,186.10 L358.00,185.81 L358.50,185.52 L359.00,185.24 L359.50,184.96 L360.00,184.69 L360.50,184.42 L361.00,184.16 L361.50,183.90 L362.00,183.64 L362.50,183.39 L363.00,183.14 L363.50,182.89 L364.00,182.65 L364.50,182.41 L365.00,182.17 L365.50,181.94 L366.00,181.71 L366.50,181.48 L367.00,181.25 L367.50,181.03 L368.00,180.81 L368.50,180.59 L369.00,180.38 L369.50,180.16 L370.00,179.95 L370.50,179.74 L371.00,179.54 L371.50,179.33 L372.00,179.13 L372.50,178.93 L373.00,178.73 L373.50,178.53 L374.00,178.33 L374.50,178.13 L375.00,177.94 L375.50,177.74 L376.00,177.55 L376.50,177.36 L377.00,177.17 L377.50,176.98 L378.00,176.78 L378.50,176.59 L379.00,176.40 L379.50,176.21 L380.00,176.02 L380.50,175.83 L381.00,175.64 L381.50,175.45 L382.00,175.26 L382.50,175.07 L383.00,174.88 L383.50,174.69 L384.00,174.49 L384.50,174.30 L385.00,174.11 L385.50,173.91 L386.00,173.71" fill="none" stroke="#f7881a" stroke-width="1.6"/>
<line x1="276.4" y1="53.0" x2="296.4" y2="61.7" stroke="#1f948f" stroke-width="1.3"/><polygon points="300.1,63.3 294.9,63.9 297.0,59.1" fill="#1f948f"/>
<line x1="340.0" y1="67.3" x2="320.4" y2="59.1" stroke="#1f948f" stroke-width="1.3"/><polygon points="316.7,57.6 321.9,56.9 319.9,61.7" fill="#1f948f"/>
<line x1="286.6" y1="106.2" x2="302.8" y2="117.4" stroke="#8a22ee" stroke-width="1.3"/><polygon points="306.1,119.7 300.9,119.3 303.9,115.0" fill="#8a22ee"/>
<line x1="338.0" y1="119.7" x2="320.5" y2="109.4" stroke="#8a22ee" stroke-width="1.3"/><polygon points="317.1,107.4 322.3,107.4 319.7,111.9" fill="#8a22ee"/>
<line x1="316.0" y1="162.2" x2="302.4" y2="152.4" stroke="#1a1ae8" stroke-width="1.3"/><polygon points="299.2,150.1 304.4,150.6 301.3,154.8" fill="#1a1ae8"/>
<line x1="292.7" y1="155.7" x2="308.1" y2="167.3" stroke="#1a1ae8" stroke-width="1.3"/><polygon points="311.3,169.7 306.1,169.1 309.3,164.9" fill="#1a1ae8"/>
<line x1="304.9" y1="207.8" x2="291.7" y2="197.5" stroke="#f7881a" stroke-width="1.3"/><polygon points="288.6,195.0 293.7,195.7 290.5,199.8" fill="#f7881a"/>
<line x1="283.5" y1="200.7" x2="297.8" y2="212.1" stroke="#f7881a" stroke-width="1.3"/><polygon points="300.9,214.6 295.8,213.8 299.0,209.8" fill="#f7881a"/>
<text x="265.5" y="43.4" class="t" style="fill:#1f948f;stroke:#1f948f">Unencapsulated</text>
<text x="273" y="85.8" class="t" style="fill:#8a22ee;stroke:#8a22ee">Direct growth</text>
<text x="265.5" y="135.5" class="t" style="fill:#1a1ae8;stroke:#1a1ae8">O<tspan dy="3" font-size="7.5">3</tspan></text>
<text x="265.5" y="183" class="t" style="fill:#f7881a;stroke:#f7881a">H<tspan dy="3" font-size="7.5">2</tspan><tspan dy="-3">O</tspan></text>
<text x="331" y="228.6" class="t">V<tspan dy="2.8" font-size="6.8">sd</tspan><tspan dy="-2.8">=10</tspan><tspan dx="-1">&#160;mV</tspan></text>
<text x="287.5" y="264.5" class="t">E<tspan dy="3" font-size="6.5">BG</tspan><tspan dy="-3"> (MV cm</tspan><tspan dy="-4.5" font-size="7">-1</tspan><tspan dy="4.5">)</tspan></text>
<text transform="translate(237.5,149) rotate(-90)" class="t">σ (mS)</text>
<text transform="translate(225,12.2) scale(0.86,1)" class="lab">(b)</text>
<text x="187.5" y="38.9" text-anchor="middle" class="t">Graphene device</text>
<text x="187.5" y="53.4" text-anchor="middle" class="t">wafer</text>
<text x="187.5" y="106.6" text-anchor="middle" class="t"><tspan font-style="italic">In situ</tspan> gaseous</text>
<text x="187.5" y="120.8" text-anchor="middle" class="t">exposure</text>
<text x="187" y="176" text-anchor="middle" class="t">Direct ALD growth</text>
<text x="188.5" y="233.4" text-anchor="middle" class="t">Encapsulated</text>
<text x="188" y="248.2" text-anchor="middle" class="t">devices</text>
<line x1="187.8" y1="57.3" x2="187.8" y2="88.5" stroke="#ee7d2c" stroke-width="1.6"/><polygon points="187.8,93.0 184.8,88.0 190.8,88.0" fill="#ee7d2c"/>
<line x1="187.3" y1="127.8" x2="187.3" y2="159.8" stroke="#ee7d2c" stroke-width="1.6"/><polygon points="187.3,164.3 184.3,159.3 190.3,159.3" fill="#ee7d2c"/>
<line x1="187.3" y1="182.6" x2="187.3" y2="214.5" stroke="#ee7d2c" stroke-width="1.6"/><polygon points="187.3,219.0 184.3,214.0 190.3,214.0" fill="#ee7d2c"/>
<text transform="translate(0.2,12.2) scale(0.86,1)" class="lab">(a)</text>
<polygon points="-1.50,35.00 69.50,78.80 146.00,66.70 146.00,72.90 69.50,85.00 -1.50,41.20" fill="#0b0b0b" />
<polygon points="-1.50,23.50 69.50,67.30 69.50,78.80 -1.50,35.00" fill="url(#gL1)" />
<polygon points="69.50,67.30 146.00,55.20 146.00,66.70 69.50,78.80" fill="url(#gR1)" />
<polygon points="-1.50,23.50 75.00,11.40 146.00,55.20 69.50,67.30" fill="#8a50d0" />
<polygon points="0.48,24.01 75.15,12.20 144.02,54.69 69.35,66.50" fill="#6429b4" />
<polygon points="6.17,25.36 17.49,23.57 80.21,62.26 68.89,64.05" fill="url(#hat1)" />
<polygon points="3.91,24.40 16.37,22.43 19.25,24.21 6.79,26.18" fill="#f0b000" />
<polygon points="5.84,24.49 15.46,22.97 16.65,23.70 7.02,25.22" fill="#ffd040" opacity="0.6"/>
<polygon points="12.39,29.63 24.84,27.66 27.72,29.44 15.27,31.41" fill="#f0b000" />
<polygon points="14.31,29.72 23.93,28.20 25.12,28.93 15.50,30.45" fill="#ffd040" opacity="0.6"/>
<polygon points="20.86,34.86 33.32,32.89 36.20,34.67 23.74,36.64" fill="#f0b000" />
<polygon points="22.79,34.95 32.41,33.43 33.60,34.16 23.97,35.68" fill="#ffd040" opacity="0.6"/>
<polygon points="29.34,40.09 41.79,38.12 44.67,39.90 32.22,41.87" fill="#f0b000" />
<polygon points="31.26,40.18 40.89,38.66 42.07,39.39 32.45,40.91" fill="#ffd040" opacity="0.6"/>
<polygon points="37.81,45.32 50.27,43.35 53.15,45.12 40.70,47.09" fill="#f0b000" />
<polygon points="39.74,45.41 49.36,43.88 50.55,44.62 40.92,46.14" fill="#ffd040" opacity="0.6"/>
<polygon points="46.29,50.54 58.74,48.57 61.63,50.35 49.17,52.32" fill="#f0b000" />
<polygon points="48.21,50.63 57.84,49.11 59.02,49.84 49.40,51.37" fill="#ffd040" opacity="0.6"/>
<polygon points="54.77,55.77 67.22,53.80 70.10,55.58 57.65,57.55" fill="#f0b000" />
<polygon points="56.69,55.86 66.31,54.34 67.50,55.07 57.88,56.60" fill="#ffd040" opacity="0.6"/>
<polygon points="63.24,61.00 75.70,59.03 78.58,60.81 66.12,62.78" fill="#f0b000" />
<polygon points="65.16,61.09 74.79,59.57 75.98,60.30 66.35,61.82" fill="#ffd040" opacity="0.6"/>
<polygon points="20.33,23.12 31.65,21.33 94.37,60.02 83.05,61.81" fill="url(#hat1)" />
<polygon points="18.06,22.16 30.52,20.19 33.40,21.97 20.95,23.94" fill="#f0b000" />
<polygon points="19.99,22.25 29.61,20.73 30.80,21.46 21.17,22.98" fill="#ffd040" opacity="0.6"/>
<polygon points="26.54,27.39 38.99,25.42 41.88,27.20 29.42,29.17" fill="#f0b000" />
<polygon points="28.46,27.48 38.09,25.96 39.27,26.69 29.65,28.21" fill="#ffd040" opacity="0.6"/>
<polygon points="35.02,32.62 47.47,30.65 50.35,32.43 37.90,34.40" fill="#f0b000" />
<polygon points="36.94,32.71 46.56,31.19 47.75,31.92 38.13,33.44" fill="#ffd040" opacity="0.6"/>
<polygon points="43.49,37.85 55.95,35.88 58.83,37.66 46.37,39.63" fill="#f0b000" />
<polygon points="45.41,37.94 55.04,36.42 56.23,37.15 46.60,38.67" fill="#ffd040" opacity="0.6"/>
<polygon points="51.97,43.08 64.42,41.11 67.30,42.89 54.85,44.86" fill="#f0b000" />
<polygon points="53.89,43.17 63.51,41.65 64.70,42.38 55.08,43.90" fill="#ffd040" opacity="0.6"/>
<polygon points="60.44,48.31 72.90,46.34 75.78,48.11 63.32,50.08" fill="#f0b000" />
<polygon points="62.37,48.40 71.99,46.87 73.18,47.61 63.55,49.13" fill="#ffd040" opacity="0.6"/>
<polygon points="68.92,53.53 81.37,51.56 84.25,53.34 71.80,55.31" fill="#f0b000" />
<polygon points="70.84,53.62 80.47,52.10 81.65,52.83 72.03,54.36" fill="#ffd040" opacity="0.6"/>
<polygon points="77.39,58.76 89.85,56.79 92.73,58.57 80.28,60.54" fill="#f0b000" />
<polygon points="79.32,58.85 88.94,57.33 90.13,58.06 80.50,59.59" fill="#ffd040" opacity="0.6"/>
<polygon points="34.48,20.88 45.80,19.09 108.52,57.78 97.20,59.57" fill="url(#hat1)" />
<polygon points="32.22,19.92 44.67,17.95 47.55,19.73 35.10,21.70" fill="#f0b000" />
<polygon points="34.14,20.01 43.76,18.49 44.95,19.22 35.33,20.75" fill="#ffd040" opacity="0.6"/>
<polygon points="40.69,25.15 53.15,23.18 56.03,24.96 43.57,26.93" fill="#f0b000" />
<polygon points="42.62,25.24 52.24,23.72 53.43,24.45 43.80,25.98" fill="#ffd040" opacity="0.6"/>
<polygon points="49.17,30.38 61.62,28.41 64.50,30.19 52.05,32.16" fill="#f0b000" />
<polygon points="51.09,30.47 60.72,28.95 61.90,29.68 52.28,31.20" fill="#ffd040" opacity="0.6"/>
<polygon points="57.64,35.61 70.10,33.64 72.98,35.42 60.53,37.39" fill="#f0b000" />
<polygon points="59.57,35.70 69.19,34.18 70.38,34.91 60.75,36.43" fill="#ffd040" opacity="0.6"/>
<polygon points="66.12,40.84 78.57,38.87 81.46,40.65 69.00,42.62" fill="#f0b000" />
<polygon points="68.04,40.93 77.67,39.41 78.85,40.14 69.23,41.66" fill="#ffd040" opacity="0.6"/>
<polygon points="74.59,46.07 87.05,44.10 89.93,45.88 77.48,47.85" fill="#f0b000" />
<polygon points="76.52,46.16 86.14,44.64 87.33,45.37 77.71,46.89" fill="#ffd040" opacity="0.6"/>
<polygon points="83.07,51.30 95.52,49.33 98.41,51.10 85.95,53.07" fill="#f0b000" />
<polygon points="84.99,51.39 94.62,49.86 95.80,50.60 86.18,52.12" fill="#ffd040" opacity="0.6"/>
<polygon points="91.55,56.52 104.00,54.56 106.88,56.33 94.43,58.30" fill="#f0b000" />
<polygon points="93.47,56.61 103.09,55.09 104.28,55.82 94.66,57.35" fill="#ffd040" opacity="0.6"/>
<polygon points="48.63,18.64 59.95,16.85 122.67,55.54 111.35,57.33" fill="url(#hat1)" />
<polygon points="46.37,17.69 58.82,15.72 61.71,17.49 49.25,19.46" fill="#f0b000" />
<polygon points="48.29,17.78 57.92,16.25 59.10,16.99 49.48,18.51" fill="#ffd040" opacity="0.6"/>
<polygon points="54.84,22.91 67.30,20.94 70.18,22.72 57.73,24.69" fill="#f0b000" />
<polygon points="56.77,23.00 66.39,21.48 67.58,22.21 57.96,23.74" fill="#ffd040" opacity="0.6"/>
<polygon points="63.32,28.14 75.77,26.17 78.66,27.95 66.20,29.92" fill="#f0b000" />
<polygon points="65.24,28.23 74.87,26.71 76.05,27.44 66.43,28.97" fill="#ffd040" opacity="0.6"/>
<polygon points="71.80,33.37 84.25,31.40 87.13,33.18 74.68,35.15" fill="#f0b000" />
<polygon points="73.72,33.46 83.34,31.94 84.53,32.67 74.91,34.19" fill="#ffd040" opacity="0.6"/>
<polygon points="80.27,38.60 92.73,36.63 95.61,38.41 83.15,40.38" fill="#f0b000" />
<polygon points="82.20,38.69 91.82,37.17 93.01,37.90 83.38,39.42" fill="#ffd040" opacity="0.6"/>
<polygon points="88.75,43.83 101.20,41.86 104.08,43.64 91.63,45.61" fill="#f0b000" />
<polygon points="90.67,43.92 100.29,42.40 101.48,43.13 91.86,44.65" fill="#ffd040" opacity="0.6"/>
<polygon points="97.22,49.06 109.68,47.09 112.56,48.87 100.10,50.84" fill="#f0b000" />
<polygon points="99.15,49.15 108.77,47.63 109.96,48.36 100.33,49.88" fill="#ffd040" opacity="0.6"/>
<polygon points="105.70,54.29 118.15,52.32 121.03,54.09 108.58,56.06" fill="#f0b000" />
<polygon points="107.62,54.38 117.25,52.85 118.43,53.59 108.81,55.11" fill="#ffd040" opacity="0.6"/>
<polygon points="62.78,16.40 74.10,14.61 136.82,53.30 125.50,55.10" fill="url(#hat1)" />
<polygon points="60.52,15.45 72.98,13.48 75.86,15.26 63.40,17.23" fill="#f0b000" />
<polygon points="62.45,15.54 72.07,14.02 73.26,14.75 63.63,16.27" fill="#ffd040" opacity="0.6"/>
<polygon points="69.00,20.68 81.45,18.71 84.33,20.48 71.88,22.45" fill="#f0b000" />
<polygon points="70.92,20.77 80.54,19.24 81.73,19.98 72.11,21.50" fill="#ffd040" opacity="0.6"/>
<polygon points="77.47,25.90 89.93,23.93 92.81,25.71 80.35,27.68" fill="#f0b000" />
<polygon points="79.40,25.99 89.02,24.47 90.21,25.20 80.58,26.73" fill="#ffd040" opacity="0.6"/>
<polygon points="85.95,31.13 98.40,29.16 101.28,30.94 88.83,32.91" fill="#f0b000" />
<polygon points="87.87,31.22 97.50,29.70 98.68,30.43 89.06,31.96" fill="#ffd040" opacity="0.6"/>
<polygon points="94.42,36.36 106.88,34.39 109.76,36.17 97.31,38.14" fill="#f0b000" />
<polygon points="96.35,36.45 105.97,34.93 107.16,35.66 97.53,37.18" fill="#ffd040" opacity="0.6"/>
<polygon points="102.90,41.59 115.35,39.62 118.24,41.40 105.78,43.37" fill="#f0b000" />
<polygon points="104.82,41.68 114.45,40.16 115.63,40.89 106.01,42.41" fill="#ffd040" opacity="0.6"/>
<polygon points="111.38,46.82 123.83,44.85 126.71,46.63 114.26,48.60" fill="#f0b000" />
<polygon points="113.30,46.91 122.92,45.39 124.11,46.12 114.49,47.64" fill="#ffd040" opacity="0.6"/>
<polygon points="119.85,52.05 132.31,50.08 135.19,51.86 122.73,53.83" fill="#f0b000" />
<polygon points="121.77,52.14 131.40,50.62 132.59,51.35 122.96,52.87" fill="#ffd040" opacity="0.6"/>
<polygon points="-6.58,108.45 74.51,95.63 150.48,142.49 69.39,155.32" fill="#ffc8a8" opacity="0.85" filter="url(#blur1)"/>
<polygon points="-1.50,121.90 69.50,165.70 146.00,153.60 146.00,159.80 69.50,171.90 -1.50,128.10" fill="#0b0b0b" />
<polygon points="-1.50,110.40 69.50,154.20 69.50,165.70 -1.50,121.90" fill="url(#gL2)" />
<polygon points="69.50,154.20 146.00,142.10 146.00,153.60 69.50,165.70" fill="url(#gR2)" />
<polygon points="-1.50,110.40 75.00,98.30 146.00,142.10 69.50,154.20" fill="#b04a8a" />
<polygon points="-1.50,110.40 75.00,98.30 146.00,142.10 69.50,154.20" fill="#a4408c" />
<polygon points="2.92,111.35 75.22,99.92 141.96,141.09 69.67,152.52" fill="#c8303c" filter="url(#blur05)"/>
<polygon points="10.02,113.19 20.91,111.46 80.02,147.93 69.12,149.65" fill="url(#hat2)" />
<polygon points="7.87,112.29 19.86,110.39 22.57,112.07 10.59,113.96" fill="#ff7a00" />
<polygon points="9.71,112.37 18.97,110.90 20.09,111.59 10.83,113.06" fill="#ffb828" opacity="0.6"/>
<polygon points="15.86,117.22 27.84,115.32 30.56,117.00 18.58,118.89" fill="#ff7a00" />
<polygon points="17.70,117.30 26.96,115.83 28.08,116.52 18.82,117.99" fill="#ffb828" opacity="0.6"/>
<polygon points="23.85,122.14 35.83,120.25 38.55,121.92 26.56,123.82" fill="#ff7a00" />
<polygon points="25.69,122.22 34.95,120.76 36.07,121.45 26.81,122.91" fill="#ffb828" opacity="0.6"/>
<polygon points="31.84,127.07 43.82,125.18 46.53,126.85 34.55,128.75" fill="#ff7a00" />
<polygon points="33.68,127.15 42.94,125.69 44.05,126.38 34.79,127.84" fill="#ffb828" opacity="0.6"/>
<polygon points="39.82,132.00 51.81,130.10 54.52,131.78 42.54,133.67" fill="#ff7a00" />
<polygon points="41.66,132.08 50.92,130.61 52.04,131.30 42.78,132.77" fill="#ffb828" opacity="0.6"/>
<polygon points="47.81,136.93 59.79,135.03 62.51,136.71 50.53,138.60" fill="#ff7a00" />
<polygon points="49.65,137.01 58.91,135.54 60.03,136.23 50.77,137.70" fill="#ffb828" opacity="0.6"/>
<polygon points="55.80,141.85 67.78,139.96 70.50,141.63 58.51,143.53" fill="#ff7a00" />
<polygon points="57.64,141.93 66.90,140.47 68.02,141.16 58.76,142.62" fill="#ffb828" opacity="0.6"/>
<polygon points="63.79,146.78 75.77,144.89 78.48,146.56 66.50,148.46" fill="#ff7a00" />
<polygon points="65.63,146.86 74.89,145.40 76.00,146.09 66.74,147.55" fill="#ffb828" opacity="0.6"/>
<polygon points="23.63,111.03 34.53,109.31 93.63,145.77 82.74,147.50" fill="url(#hat2)" />
<polygon points="21.49,110.13 33.47,108.24 36.19,109.91 24.21,111.81" fill="#ff7a00" />
<polygon points="23.33,110.21 32.59,108.75 33.71,109.44 24.45,110.90" fill="#ffb828" opacity="0.6"/>
<polygon points="29.48,115.06 41.46,113.17 44.18,114.84 32.19,116.74" fill="#ff7a00" />
<polygon points="31.32,115.14 40.58,113.68 41.70,114.37 32.44,115.83" fill="#ffb828" opacity="0.6"/>
<polygon points="37.47,119.99 49.45,118.09 52.16,119.77 40.18,121.66" fill="#ff7a00" />
<polygon points="39.31,120.07 48.57,118.60 49.68,119.29 40.42,120.76" fill="#ffb828" opacity="0.6"/>
<polygon points="45.45,124.92 57.44,123.02 60.15,124.70 48.17,126.59" fill="#ff7a00" />
<polygon points="47.29,125.00 56.55,123.53 57.67,124.22 48.41,125.69" fill="#ffb828" opacity="0.6"/>
<polygon points="53.44,129.84 65.42,127.95 68.14,129.62 56.16,131.52" fill="#ff7a00" />
<polygon points="55.28,129.92 64.54,128.46 65.66,129.15 56.40,130.61" fill="#ffb828" opacity="0.6"/>
<polygon points="61.43,134.77 73.41,132.88 76.13,134.55 64.14,136.45" fill="#ff7a00" />
<polygon points="63.27,134.85 72.53,133.39 73.65,134.08 64.39,135.54" fill="#ffb828" opacity="0.6"/>
<polygon points="69.42,139.70 81.40,137.80 84.11,139.48 72.13,141.37" fill="#ff7a00" />
<polygon points="71.26,139.78 80.52,138.31 81.63,139.00 72.37,140.47" fill="#ffb828" opacity="0.6"/>
<polygon points="77.40,144.63 89.39,142.73 92.10,144.41 80.12,146.30" fill="#ff7a00" />
<polygon points="79.24,144.71 88.50,143.24 89.62,143.93 80.36,145.40" fill="#ffb828" opacity="0.6"/>
<polygon points="37.25,108.88 48.14,107.16 107.25,143.62 96.36,145.34" fill="url(#hat2)" />
<polygon points="35.11,107.98 47.09,106.09 49.81,107.76 37.82,109.66" fill="#ff7a00" />
<polygon points="36.95,108.06 46.21,106.60 47.33,107.29 38.07,108.75" fill="#ffb828" opacity="0.6"/>
<polygon points="43.09,112.91 55.08,111.01 57.79,112.69 45.81,114.58" fill="#ff7a00" />
<polygon points="44.94,112.99 54.20,111.52 55.31,112.21 46.05,113.68" fill="#ffb828" opacity="0.6"/>
<polygon points="51.08,117.84 63.07,115.94 65.78,117.62 53.80,119.51" fill="#ff7a00" />
<polygon points="52.92,117.92 62.18,116.45 63.30,117.14 54.04,118.61" fill="#ffb828" opacity="0.6"/>
<polygon points="59.07,122.76 71.05,120.87 73.77,122.54 61.79,124.44" fill="#ff7a00" />
<polygon points="60.91,122.84 70.17,121.38 71.29,122.07 62.03,123.53" fill="#ffb828" opacity="0.6"/>
<polygon points="67.06,127.69 79.04,125.80 81.76,127.47 69.77,129.37" fill="#ff7a00" />
<polygon points="68.90,127.77 78.16,126.31 79.28,127.00 70.02,128.46" fill="#ffb828" opacity="0.6"/>
<polygon points="75.04,132.62 87.03,130.72 89.74,132.40 77.76,134.29" fill="#ff7a00" />
<polygon points="76.89,132.70 86.15,131.23 87.26,131.92 78.00,133.39" fill="#ffb828" opacity="0.6"/>
<polygon points="83.03,137.55 95.02,135.65 97.73,137.33 85.75,139.22" fill="#ff7a00" />
<polygon points="84.87,137.63 94.13,136.16 95.25,136.85 85.99,138.32" fill="#ffb828" opacity="0.6"/>
<polygon points="91.02,142.47 103.00,140.58 105.72,142.25 93.74,144.15" fill="#ff7a00" />
<polygon points="92.86,142.55 102.12,141.09 103.24,141.78 93.98,143.24" fill="#ffb828" opacity="0.6"/>
<polygon points="50.87,106.73 61.76,105.00 120.87,141.47 109.97,143.19" fill="url(#hat2)" />
<polygon points="48.72,105.83 60.71,103.93 63.42,105.61 51.44,107.50" fill="#ff7a00" />
<polygon points="50.57,105.91 59.82,104.44 60.94,105.13 51.68,106.60" fill="#ffb828" opacity="0.6"/>
<polygon points="56.71,110.75 68.69,108.86 71.41,110.53 59.43,112.43" fill="#ff7a00" />
<polygon points="58.55,110.83 67.81,109.37 68.93,110.06 59.67,111.52" fill="#ffb828" opacity="0.6"/>
<polygon points="64.70,115.68 76.68,113.79 79.40,115.46 67.42,117.36" fill="#ff7a00" />
<polygon points="66.54,115.76 75.80,114.30 76.92,114.99 67.66,116.45" fill="#ffb828" opacity="0.6"/>
<polygon points="72.69,120.61 84.67,118.71 87.39,120.39 75.40,122.28" fill="#ff7a00" />
<polygon points="74.53,120.69 83.79,119.22 84.91,119.91 75.65,121.38" fill="#ffb828" opacity="0.6"/>
<polygon points="80.67,125.54 92.66,123.64 95.37,125.32 83.39,127.21" fill="#ff7a00" />
<polygon points="82.52,125.62 91.77,124.15 92.89,124.84 83.63,126.31" fill="#ffb828" opacity="0.6"/>
<polygon points="88.66,130.46 100.64,128.57 103.36,130.24 91.38,132.14" fill="#ff7a00" />
<polygon points="90.50,130.54 99.76,129.08 100.88,129.77 91.62,131.23" fill="#ffb828" opacity="0.6"/>
<polygon points="96.65,135.39 108.63,133.50 111.35,135.17 99.37,137.07" fill="#ff7a00" />
<polygon points="98.49,135.47 107.75,134.01 108.87,134.70 99.61,136.16" fill="#ffb828" opacity="0.6"/>
<polygon points="104.64,140.32 116.62,138.42 119.34,140.10 107.35,141.99" fill="#ff7a00" />
<polygon points="106.48,140.40 115.74,138.93 116.86,139.62 107.60,141.09" fill="#ffb828" opacity="0.6"/>
<polygon points="64.48,104.57 75.38,102.85 134.48,139.31 123.59,141.04" fill="url(#hat2)" />
<polygon points="62.34,103.67 74.32,101.78 77.04,103.45 65.06,105.35" fill="#ff7a00" />
<polygon points="64.18,103.75 73.44,102.29 74.56,102.98 65.30,104.44" fill="#ffb828" opacity="0.6"/>
<polygon points="70.33,108.60 82.31,106.70 85.03,108.38 73.04,110.28" fill="#ff7a00" />
<polygon points="72.17,108.68 81.43,107.22 82.55,107.91 73.29,109.37" fill="#ffb828" opacity="0.6"/>
<polygon points="78.32,113.53 90.30,111.63 93.01,113.31 81.03,115.20" fill="#ff7a00" />
<polygon points="80.16,113.61 89.42,112.14 90.54,112.83 81.28,114.30" fill="#ffb828" opacity="0.6"/>
<polygon points="86.30,118.46 98.29,116.56 101.00,118.24 89.02,120.13" fill="#ff7a00" />
<polygon points="88.14,118.54 97.40,117.07 98.52,117.76 89.26,119.23" fill="#ffb828" opacity="0.6"/>
<polygon points="94.29,123.38 106.27,121.49 108.99,123.16 97.01,125.06" fill="#ff7a00" />
<polygon points="96.13,123.46 105.39,122.00 106.51,122.69 97.25,124.15" fill="#ffb828" opacity="0.6"/>
<polygon points="102.28,128.31 114.26,126.41 116.98,128.09 104.99,129.99" fill="#ff7a00" />
<polygon points="104.12,128.39 113.38,126.93 114.50,127.62 105.24,129.08" fill="#ffb828" opacity="0.6"/>
<polygon points="110.27,133.24 122.25,131.34 124.96,133.02 112.98,134.91" fill="#ff7a00" />
<polygon points="112.11,133.32 121.37,131.85 122.49,132.54 113.23,134.01" fill="#ffb828" opacity="0.6"/>
<polygon points="118.25,138.17 130.24,136.27 132.95,137.95 120.97,139.84" fill="#ff7a00" />
<polygon points="120.09,138.25 129.35,136.78 130.47,137.47 121.21,138.94" fill="#ffb828" opacity="0.6"/>
<polygon points="-1.50,210.50 69.50,254.30 146.00,242.20 146.00,247.80 69.50,259.90 -1.50,216.10" fill="#0b0b0b" />
<polygon points="-1.50,197.70 69.50,241.50 69.50,254.30 -1.50,210.50" fill="url(#gL1)" />
<polygon points="69.50,241.50 146.00,229.40 146.00,242.20 69.50,254.30" fill="url(#gR1)" />
<path d="M-1.5,197.7 L-1.0,193.7 Q-0.5,187.2 5.6,186.2 L70.6,175.9 Q76.0,175.1 81.8,178.8 L139.8,215.4 Q148.5,220.9 146.5,228.4 L146.0,229.4 L69.5,241.5 Z" fill="url(#glass)"/>
<polygon points="-1.50,197.70 75.00,185.60 146.00,229.40 69.50,241.50" fill="#7a6ad8" />
<polygon points="0.48,198.21 75.15,186.40 144.02,228.89 69.35,240.70" fill="#5444be" />
<polygon points="6.17,199.56 17.49,197.77 80.21,236.46 68.89,238.25" fill="url(#hat3)" />
<polygon points="3.91,198.60 16.37,196.63 19.25,198.41 6.79,200.38" fill="#cdb85c" />
<polygon points="5.84,198.69 15.46,197.17 16.65,197.90 7.02,199.42" fill="#e0d48c" opacity="0.6"/>
<polygon points="12.39,203.83 24.84,201.86 27.72,203.64 15.27,205.61" fill="#cdb85c" />
<polygon points="14.31,203.92 23.93,202.40 25.12,203.13 15.50,204.65" fill="#e0d48c" opacity="0.6"/>
<polygon points="20.86,209.06 33.32,207.09 36.20,208.87 23.74,210.84" fill="#cdb85c" />
<polygon points="22.79,209.15 32.41,207.63 33.60,208.36 23.97,209.88" fill="#e0d48c" opacity="0.6"/>
<polygon points="29.34,214.29 41.79,212.32 44.67,214.10 32.22,216.07" fill="#cdb85c" />
<polygon points="31.26,214.38 40.89,212.86 42.07,213.59 32.45,215.11" fill="#e0d48c" opacity="0.6"/>
<polygon points="37.81,219.52 50.27,217.55 53.15,219.32 40.70,221.29" fill="#cdb85c" />
<polygon points="39.74,219.61 49.36,218.08 50.55,218.82 40.92,220.34" fill="#e0d48c" opacity="0.6"/>
<polygon points="46.29,224.74 58.74,222.77 61.63,224.55 49.17,226.52" fill="#cdb85c" />
<polygon points="48.21,224.83 57.84,223.31 59.02,224.04 49.40,225.57" fill="#e0d48c" opacity="0.6"/>
<polygon points="54.77,229.97 67.22,228.00 70.10,229.78 57.65,231.75" fill="#cdb85c" />
<polygon points="56.69,230.06 66.31,228.54 67.50,229.27 57.88,230.80" fill="#e0d48c" opacity="0.6"/>
<polygon points="63.24,235.20 75.70,233.23 78.58,235.01 66.12,236.98" fill="#cdb85c" />
<polygon points="65.16,235.29 74.79,233.77 75.98,234.50 66.35,236.02" fill="#e0d48c" opacity="0.6"/>
<polygon points="20.33,197.32 31.65,195.53 94.37,234.22 83.05,236.01" fill="url(#hat3)" />
<polygon points="18.06,196.36 30.52,194.39 33.40,196.17 20.95,198.14" fill="#cdb85c" />
<polygon points="19.99,196.45 29.61,194.93 30.80,195.66 21.17,197.18" fill="#e0d48c" opacity="0.6"/>
<polygon points="26.54,201.59 38.99,199.62 41.88,201.40 29.42,203.37" fill="#cdb85c" />
<polygon points="28.46,201.68 38.09,200.16 39.27,200.89 29.65,202.41" fill="#e0d48c" opacity="0.6"/>
<polygon points="35.02,206.82 47.47,204.85 50.35,206.63 37.90,208.60" fill="#cdb85c" />
<polygon points="36.94,206.91 46.56,205.39 47.75,206.12 38.13,207.64" fill="#e0d48c" opacity="0.6"/>
<polygon points="43.49,212.05 55.95,210.08 58.83,211.86 46.37,213.83" fill="#cdb85c" />
<polygon points="45.41,212.14 55.04,210.62 56.23,211.35 46.60,212.87" fill="#e0d48c" opacity="0.6"/>
<polygon points="51.97,217.28 64.42,215.31 67.30,217.09 54.85,219.06" fill="#cdb85c" />
<polygon points="53.89,217.37 63.51,215.85 64.70,216.58 55.08,218.10" fill="#e0d48c" opacity="0.6"/>
<polygon points="60.44,222.51 72.90,220.54 75.78,222.31 63.32,224.28" fill="#cdb85c" />
<polygon points="62.37,222.60 71.99,221.07 73.18,221.81 63.55,223.33" fill="#e0d48c" opacity="0.6"/>
<polygon points="68.92,227.73 81.37,225.76 84.25,227.54 71.80,229.51" fill="#cdb85c" />
<polygon points="70.84,227.82 80.47,226.30 81.65,227.03 72.03,228.56" fill="#e0d48c" opacity="0.6"/>
<polygon points="77.39,232.96 89.85,230.99 92.73,232.77 80.28,234.74" fill="#cdb85c" />
<polygon points="79.32,233.05 88.94,231.53 90.13,232.26 80.50,233.79" fill="#e0d48c" opacity="0.6"/>
<polygon points="34.48,195.08 45.80,193.29 108.52,231.98 97.20,233.77" fill="url(#hat3)" />
<polygon points="32.22,194.12 44.67,192.15 47.55,193.93 35.10,195.90" fill="#cdb85c" />
<polygon points="34.14,194.21 43.76,192.69 44.95,193.42 35.33,194.95" fill="#e0d48c" opacity="0.6"/>
<polygon points="40.69,199.35 53.15,197.38 56.03,199.16 43.57,201.13" fill="#cdb85c" />
<polygon points="42.62,199.44 52.24,197.92 53.43,198.65 43.80,200.18" fill="#e0d48c" opacity="0.6"/>
<polygon points="49.17,204.58 61.62,202.61 64.50,204.39 52.05,206.36" fill="#cdb85c" />
<polygon points="51.09,204.67 60.72,203.15 61.90,203.88 52.28,205.40" fill="#e0d48c" opacity="0.6"/>
<polygon points="57.64,209.81 70.10,207.84 72.98,209.62 60.53,211.59" fill="#cdb85c" />
<polygon points="59.57,209.90 69.19,208.38 70.38,209.11 60.75,210.63" fill="#e0d48c" opacity="0.6"/>
<polygon points="66.12,215.04 78.57,213.07 81.46,214.85 69.00,216.82" fill="#cdb85c" />
<polygon points="68.04,215.13 77.67,213.61 78.85,214.34 69.23,215.86" fill="#e0d48c" opacity="0.6"/>
<polygon points="74.59,220.27 87.05,218.30 89.93,220.08 77.48,222.05" fill="#cdb85c" />
<polygon points="76.52,220.36 86.14,218.84 87.33,219.57 77.71,221.09" fill="#e0d48c" opacity="0.6"/>
<polygon points="83.07,225.50 95.52,223.53 98.41,225.30 85.95,227.27" fill="#cdb85c" />
<polygon points="84.99,225.59 94.62,224.06 95.80,224.80 86.18,226.32" fill="#e0d48c" opacity="0.6"/>
<polygon points="91.55,230.72 104.00,228.76 106.88,230.53 94.43,232.50" fill="#cdb85c" />
<polygon points="93.47,230.81 103.09,229.29 104.28,230.02 94.66,231.55" fill="#e0d48c" opacity="0.6"/>
<polygon points="48.63,192.84 59.95,191.05 122.67,229.74 111.35,231.53" fill="url(#hat3)" />
<polygon points="46.37,191.89 58.82,189.92 61.71,191.69 49.25,193.66" fill="#cdb85c" />
<polygon points="48.29,191.98 57.92,190.45 59.10,191.19 49.48,192.71" fill="#e0d48c" opacity="0.6"/>
<polygon points="54.84,197.11 67.30,195.14 70.18,196.92 57.73,198.89" fill="#cdb85c" />
<polygon points="56.77,197.20 66.39,195.68 67.58,196.41 57.96,197.94" fill="#e0d48c" opacity="0.6"/>
<polygon points="63.32,202.34 75.77,200.37 78.66,202.15 66.20,204.12" fill="#cdb85c" />
<polygon points="65.24,202.43 74.87,200.91 76.05,201.64 66.43,203.17" fill="#e0d48c" opacity="0.6"/>
<polygon points="71.80,207.57 84.25,205.60 87.13,207.38 74.68,209.35" fill="#cdb85c" />
<polygon points="73.72,207.66 83.34,206.14 84.53,206.87 74.91,208.39" fill="#e0d48c" opacity="0.6"/>
<polygon points="80.27,212.80 92.73,210.83 95.61,212.61 83.15,214.58" fill="#cdb85c" />
<polygon points="82.20,212.89 91.82,211.37 93.01,212.10 83.38,213.62" fill="#e0d48c" opacity="0.6"/>
<polygon points="88.75,218.03 101.20,216.06 104.08,217.84 91.63,219.81" fill="#cdb85c" />
<polygon points="90.67,218.12 100.29,216.60 101.48,217.33 91.86,218.85" fill="#e0d48c" opacity="0.6"/>
<polygon points="97.22,223.26 109.68,221.29 112.56,223.07 100.10,225.04" fill="#cdb85c" />
<polygon points="99.15,223.35 108.77,221.83 109.96,222.56 100.33,224.08" fill="#e0d48c" opacity="0.6"/>
<polygon points="105.70,228.49 118.15,226.52 121.03,228.29 108.58,230.26" fill="#cdb85c" />
<polygon points="107.62,228.58 117.25,227.05 118.43,227.79 108.81,229.31" fill="#e0d48c" opacity="0.6"/>
<polygon points="62.78,190.60 74.10,188.81 136.82,227.50 125.50,229.30" fill="url(#hat3)" />
<polygon points="60.52,189.65 72.98,187.68 75.86,189.46 63.40,191.43" fill="#cdb85c" />
<polygon points="62.45,189.74 72.07,188.22 73.26,188.95 63.63,190.47" fill="#e0d48c" opacity="0.6"/>
<polygon points="69.00,194.88 81.45,192.91 84.33,194.68 71.88,196.65" fill="#cdb85c" />
<polygon points="70.92,194.97 80.54,193.44 81.73,194.18 72.11,195.70" fill="#e0d48c" opacity="0.6"/>
<polygon points="77.47,200.10 89.93,198.13 92.81,199.91 80.35,201.88" fill="#cdb85c" />
<polygon points="79.40,200.19 89.02,198.67 90.21,199.40 80.58,200.93" fill="#e0d48c" opacity="0.6"/>
<polygon points="85.95,205.33 98.40,203.36 101.28,205.14 88.83,207.11" fill="#cdb85c" />
<polygon points="87.87,205.42 97.50,203.90 98.68,204.63 89.06,206.16" fill="#e0d48c" opacity="0.6"/>
<polygon points="94.42,210.56 106.88,208.59 109.76,210.37 97.31,212.34" fill="#cdb85c" />
<polygon points="96.35,210.65 105.97,209.13 107.16,209.86 97.53,211.38" fill="#e0d48c" opacity="0.6"/>
<polygon points="102.90,215.79 115.35,213.82 118.24,215.60 105.78,217.57" fill="#cdb85c" />
<polygon points="104.82,215.88 114.45,214.36 115.63,215.09 106.01,216.61" fill="#e0d48c" opacity="0.6"/>
<polygon points="111.38,221.02 123.83,219.05 126.71,220.83 114.26,222.80" fill="#cdb85c" />
<polygon points="113.30,221.11 122.92,219.59 124.11,220.32 114.49,221.84" fill="#e0d48c" opacity="0.6"/>
<polygon points="119.85,226.25 132.31,224.28 135.19,226.06 122.73,228.03" fill="#cdb85c" />
<polygon points="121.77,226.34 131.40,224.82 132.59,225.55 122.96,227.07" fill="#e0d48c" opacity="0.6"/>
<polygon points="-1.50,197.70 75.00,185.60 146.00,229.40 69.50,241.50" fill="url(#glassTop)" />
<text transform="translate(391.5,12.2) scale(0.86,1)" class="lab">(c)</text>
<path d="M421.1,71.8 L423.5,41.2 L424.5,41.2 L424.8,43.7 L425.1,46.4 L425.5,48.9 L425.8,51.3 L426.1,53.4 L426.4,55.4 L426.8,57.2 L427.1,58.8 L427.4,60.2 L427.8,61.5 L428.1,62.7 L428.4,63.7 L428.7,64.7 L429.1,65.5 L429.4,66.2 L429.7,66.9 L430.0,67.5 L430.4,68.0 L430.7,68.5 L431.0,68.9 L431.3,69.2 L431.6,69.5 L432.0,69.8 L432.3,70.0 L432.6,70.3 L432.9,70.5 L433.3,70.5 L433.6,70.5 L433.9,70.5 L434.2,70.5 L434.6,70.5 L434.9,70.5 L435.2,70.5 L435.6,70.5 L435.9,70.5 L436.2,70.5 L436.5,70.5 L436.9,70.5 L437.2,70.5 L437.5,70.5 L437.8,71.8 Z" fill="#ff0000"/>
<path d="M435.5,71.8 L437.9,41.2 L438.9,41.2 L439.3,43.7 L439.6,46.4 L439.9,48.9 L440.2,51.3 L440.6,53.4 L440.9,55.4 L441.2,57.2 L441.6,58.8 L441.9,60.2 L442.2,61.5 L442.5,62.7 L442.8,63.7 L443.2,64.7 L443.5,65.5 L443.8,66.2 L444.1,66.9 L444.5,67.5 L444.8,68.0 L445.1,68.5 L445.4,68.9 L445.8,69.2 L446.1,69.5 L446.4,69.8 L446.8,70.0 L447.1,70.3 L447.4,70.5 L447.7,70.5 L448.1,70.5 L448.4,70.5 L448.7,70.5 L449.0,70.5 L449.3,70.5 L449.7,70.5 L450.0,70.5 L450.3,70.5 L450.6,70.5 L451.0,70.5 L451.3,70.5 L451.6,70.5 L451.9,70.5 L452.2,71.8 Z" fill="#ff0000"/>
<path d="M449.9,71.8 L452.4,41.2 L453.4,41.2 L453.7,43.7 L454.0,46.4 L454.4,48.9 L454.7,51.3 L455.0,53.4 L455.3,55.4 L455.7,57.2 L456.0,58.8 L456.3,60.2 L456.6,61.5 L457.0,62.7 L457.3,63.7 L457.6,64.7 L457.9,65.5 L458.3,66.2 L458.6,66.9 L458.9,67.5 L459.2,68.0 L459.6,68.5 L459.9,68.9 L460.2,69.2 L460.5,69.5 L460.9,69.8 L461.2,70.0 L461.5,70.3 L461.8,70.5 L462.2,70.5 L462.5,70.5 L462.8,70.5 L463.1,70.5 L463.5,70.5 L463.8,70.5 L464.1,70.5 L464.4,70.5 L464.8,70.5 L465.1,70.5 L465.4,70.5 L465.8,70.5 L466.1,70.5 L466.4,70.5 L466.7,71.8 Z" fill="#ff0000"/>
<path d="M464.4,71.8 L466.9,41.2 L467.9,41.2 L468.2,43.7 L468.5,46.4 L468.8,48.9 L469.2,51.3 L469.5,53.4 L469.8,55.4 L470.1,57.2 L470.5,58.8 L470.8,60.2 L471.1,61.5 L471.4,62.7 L471.8,63.7 L472.1,64.7 L472.4,65.5 L472.7,66.2 L473.1,66.9 L473.4,67.5 L473.7,68.0 L474.0,68.5 L474.4,68.9 L474.7,69.2 L475.0,69.5 L475.3,69.8 L475.7,70.0 L476.0,70.3 L476.3,70.5 L476.6,70.5 L477.0,70.5 L477.3,70.5 L477.6,70.5 L477.9,70.5 L478.2,70.5 L478.6,70.5 L478.9,70.5 L479.2,70.5 L479.6,70.5 L479.9,70.5 L480.2,70.5 L480.5,70.5 L480.9,70.5 L481.2,71.8 Z" fill="#ff0000"/>
<path d="M519.2,71.8 L521.7,41.2 L522.7,41.2 L523.0,43.7 L523.4,46.4 L523.7,48.9 L524.0,51.3 L524.3,53.4 L524.7,55.4 L525.0,57.2 L525.3,58.8 L525.6,60.2 L526.0,61.5 L526.3,62.7 L526.6,63.7 L526.9,64.7 L527.2,65.5 L527.6,66.2 L527.9,66.9 L528.2,67.5 L528.6,68.0 L528.9,68.5 L529.2,68.9 L529.5,69.2 L529.9,69.5 L530.2,69.8 L530.5,70.0 L530.8,70.3 L531.2,70.5 L531.5,70.5 L531.8,70.5 L532.1,70.5 L532.5,70.5 L532.8,70.5 L533.1,70.5 L533.4,70.5 L533.8,70.5 L534.1,70.5 L534.4,70.5 L534.7,70.5 L535.1,70.5 L535.4,70.5 L535.7,70.5 L536.0,71.8 Z" fill="#ff0000"/>
<path d="M534.1,71.8 L536.6,41.2 L537.6,41.2 L537.9,43.7 L538.2,46.4 L538.6,48.9 L538.9,51.3 L539.2,53.4 L539.6,55.4 L539.9,57.2 L540.2,58.8 L540.5,60.2 L540.9,61.5 L541.2,62.7 L541.5,63.7 L541.8,64.7 L542.1,65.5 L542.5,66.2 L542.8,66.9 L543.1,67.5 L543.5,68.0 L543.8,68.5 L544.1,68.9 L544.4,69.2 L544.8,69.5 L545.1,69.8 L545.4,70.0 L545.7,70.3 L546.1,70.5 L546.4,70.5 L546.7,70.5 L547.0,70.5 L547.4,70.5 L547.7,70.5 L548.0,70.5 L548.3,70.5 L548.6,70.5 L549.0,70.5 L549.3,70.5 L549.6,70.5 L550.0,70.5 L550.3,70.5 L550.6,70.5 L550.9,71.8 Z" fill="#5b9bd5"/>
<path d="M549.0,71.8 L551.5,41.2 L552.5,41.2 L552.8,43.7 L553.1,46.4 L553.5,48.9 L553.8,51.3 L554.1,53.4 L554.5,55.4 L554.8,57.2 L555.1,58.8 L555.4,60.2 L555.8,61.5 L556.1,62.7 L556.4,63.7 L556.7,64.7 L557.0,65.5 L557.4,66.2 L557.7,66.9 L558.0,67.5 L558.4,68.0 L558.7,68.5 L559.0,68.9 L559.3,69.2 L559.6,69.5 L560.0,69.8 L560.3,70.0 L560.6,70.3 L561.0,70.5 L561.3,70.5 L561.6,70.5 L561.9,70.5 L562.2,70.5 L562.6,70.5 L562.9,70.5 L563.2,70.5 L563.5,70.5 L563.9,70.5 L564.2,70.5 L564.5,70.5 L564.9,70.5 L565.2,70.5 L565.5,70.5 L565.8,71.8 Z" fill="#ff0000"/>
<path d="M564.0,71.8 L566.4,41.2 L567.4,41.2 L567.7,43.7 L568.1,46.4 L568.4,48.9 L568.7,51.3 L569.0,53.4 L569.4,55.4 L569.7,57.2 L570.0,58.8 L570.3,60.2 L570.7,61.5 L571.0,62.7 L571.3,63.7 L571.6,64.7 L572.0,65.5 L572.3,66.2 L572.6,66.9 L572.9,67.5 L573.3,68.0 L573.6,68.5 L573.9,68.9 L574.2,69.2 L574.6,69.5 L574.9,69.8 L575.2,70.0 L575.5,70.3 L575.9,70.5 L576.2,70.5 L576.5,70.5 L576.8,70.5 L577.2,70.5 L577.5,70.5 L577.8,70.5 L578.1,70.5 L578.5,70.5 L578.8,70.5 L579.1,70.5 L579.4,70.5 L579.8,70.5 L580.1,70.5 L580.4,70.5 L580.7,71.8 Z" fill="#5b9bd5"/>
<path d="M416.2,39.2 V71.9 H493" fill="none" stroke="#4a4a4a" stroke-width="1.6"/>
<path d="M515.3,39 V71.6 H591.5" fill="none" stroke="#4a4a4a" stroke-width="1.6"/>
<text x="421.7" y="33.8" class="big" style="fill:#ff0000;stroke:#ff0000;stroke-width:0.1px">H<tspan dy="3" font-size="9">2</tspan><tspan dy="-3">O / O</tspan><tspan dy="3" font-size="9">3</tspan></text>
<text x="569.3" y="48.7" class="big" textLength="26.6" lengthAdjust="spacingAndGlyphs" style="fill:#5b9bd5;stroke:#5b9bd5;stroke-width:0.1px">TMA</text>
<text x="403" y="48.5" class="t" font-style="italic">P</text>
<text x="503" y="49.3" class="t" font-style="italic">P</text>
<text x="413" y="85.8" class="t">Pretreatment</text>
<text x="485.6" y="85" class="t"><tspan font-style="italic">t</tspan> (s)</text>
<text x="521.7" y="84.1" class="t">Growth</text>
<text x="585" y="85" class="t"><tspan font-style="italic">t</tspan> (s)</text>
<circle cx="478.5" cy="53.5" r="1.1" fill="#222"/>
<circle cx="482.7" cy="53.5" r="1.1" fill="#222"/>
<circle cx="486.9" cy="53.5" r="1.1" fill="#222"/>
<circle cx="577.0" cy="55.7" r="1.1" fill="#222"/>
<circle cx="581.2" cy="55.7" r="1.1" fill="#222"/>
<circle cx="585.4" cy="55.7" r="1.1" fill="#222"/>
<rect x="441.8" y="124" width="66.4" height="60.5" fill="url(#photo)"/>
<polygon points="450.5,147.3 463.8,177.3 499.3,162.6 498.3,159.6 463.8,174.3 450.5,145.3" fill="#c8c0b8" opacity="0.6" filter="url(#blur1)"/>
<polygon points="450.5,145.3 463.8,174.3 498.3,159.6 498.0,162.2 463.8,177.1 450.3,147.5" fill="#2e1c12"/>
<polygon points="450.5,145.3 481.5,133.8 498.3,159.6 463.8,174.3" fill="url(#chip)"/>
<line x1="455.4" y1="146.2" x2="466.6" y2="170.5" stroke="#fff4c8" stroke-width="0.7" stroke-dasharray="2,1.2" opacity="0.85"/>
<line x1="459.3" y1="144.7" x2="470.5" y2="169.1" stroke="#fff4c8" stroke-width="0.7" stroke-dasharray="2,1.2" opacity="0.85"/>
<line x1="463.2" y1="143.3" x2="474.4" y2="167.7" stroke="#fff4c8" stroke-width="0.7" stroke-dasharray="2,1.2" opacity="0.85"/>
<line x1="467.1" y1="141.9" x2="478.2" y2="166.2" stroke="#fff4c8" stroke-width="0.7" stroke-dasharray="2,1.2" opacity="0.85"/>
<line x1="470.9" y1="140.4" x2="482.1" y2="164.8" stroke="#fff4c8" stroke-width="0.7" stroke-dasharray="2,1.2" opacity="0.85"/>
<line x1="474.8" y1="139.0" x2="486.0" y2="163.4" stroke="#fff4c8" stroke-width="0.7" stroke-dasharray="2,1.2" opacity="0.85"/>
<line x1="478.7" y1="137.6" x2="489.9" y2="161.9" stroke="#fff4c8" stroke-width="0.7" stroke-dasharray="2,1.2" opacity="0.85"/>
<line x1="455.2" y1="149.2" x2="481.2" y2="139.6" stroke="#fff0b0" stroke-width="0.5" opacity="0.6"/>
<line x1="457.4" y1="154.0" x2="483.5" y2="144.4" stroke="#fff0b0" stroke-width="0.5" opacity="0.6"/>
<line x1="459.6" y1="158.9" x2="485.7" y2="149.2" stroke="#fff0b0" stroke-width="0.5" opacity="0.6"/>
<line x1="461.8" y1="163.7" x2="487.9" y2="154.1" stroke="#fff0b0" stroke-width="0.5" opacity="0.6"/>
<line x1="464.1" y1="168.5" x2="490.1" y2="158.9" stroke="#fff0b0" stroke-width="0.5" opacity="0.6"/>
<rect x="497.6" y="208.5" width="12.9" height="28.7" fill="#f28a2e" stroke="#4a3020" stroke-width="0.8"/>
<rect x="510.5" y="132.0" width="12.9" height="105.2" fill="#f28a2e" stroke="#4a3020" stroke-width="0.8"/>
<rect x="523.4" y="170.2" width="12.9" height="67.0" fill="#f28a2e" stroke="#4a3020" stroke-width="0.8"/>
<rect x="536.3" y="170.2" width="12.9" height="67.0" fill="#f28a2e" stroke="#4a3020" stroke-width="0.8"/>
<rect x="549.2" y="227.6" width="12.9" height="9.6" fill="#f28a2e" stroke="#4a3020" stroke-width="0.8"/>
<rect x="562.1" y="227.6" width="12.9" height="9.6" fill="#f28a2e" stroke="#4a3020" stroke-width="0.8"/>
<rect x="439.5" y="122.4" width="154.9" height="114.8" fill="none" stroke="#3c3c3c" stroke-width="1.1"/>
<line x1="436.5" y1="237.2" x2="439.5" y2="237.2" stroke="#3c3c3c" stroke-width="1"/>
<line x1="437.5" y1="227.6" x2="439.5" y2="227.6" stroke="#3c3c3c" stroke-width="1"/>
<line x1="436.5" y1="218.1" x2="439.5" y2="218.1" stroke="#3c3c3c" stroke-width="1"/>
<line x1="437.5" y1="208.5" x2="439.5" y2="208.5" stroke="#3c3c3c" stroke-width="1"/>
<line x1="436.5" y1="198.9" x2="439.5" y2="198.9" stroke="#3c3c3c" stroke-width="1"/>
<line x1="437.5" y1="189.4" x2="439.5" y2="189.4" stroke="#3c3c3c" stroke-width="1"/>
<line x1="436.5" y1="179.8" x2="439.5" y2="179.8" stroke="#3c3c3c" stroke-width="1"/>
<line x1="437.5" y1="170.2" x2="439.5" y2="170.2" stroke="#3c3c3c" stroke-width="1"/>
<line x1="436.5" y1="160.7" x2="439.5" y2="160.7" stroke="#3c3c3c" stroke-width="1"/>
<line x1="437.5" y1="151.1" x2="439.5" y2="151.1" stroke="#3c3c3c" stroke-width="1"/>
<line x1="436.5" y1="141.5" x2="439.5" y2="141.5" stroke="#3c3c3c" stroke-width="1"/>
<line x1="437.5" y1="132.0" x2="439.5" y2="132.0" stroke="#3c3c3c" stroke-width="1"/>
<line x1="436.5" y1="122.4" x2="439.5" y2="122.4" stroke="#3c3c3c" stroke-width="1"/>
<line x1="439.5" y1="237.2" x2="439.5" y2="240.2" stroke="#3c3c3c" stroke-width="1"/>
<line x1="458.9" y1="237.2" x2="458.9" y2="239.2" stroke="#3c3c3c" stroke-width="1"/>
<line x1="478.2" y1="237.2" x2="478.2" y2="240.2" stroke="#3c3c3c" stroke-width="1"/>
<line x1="497.6" y1="237.2" x2="497.6" y2="239.2" stroke="#3c3c3c" stroke-width="1"/>
<line x1="517.0" y1="237.2" x2="517.0" y2="240.2" stroke="#3c3c3c" stroke-width="1"/>
<line x1="536.3" y1="237.2" x2="536.3" y2="239.2" stroke="#3c3c3c" stroke-width="1"/>
<line x1="555.7" y1="237.2" x2="555.7" y2="240.2" stroke="#3c3c3c" stroke-width="1"/>
<line x1="575.0" y1="237.2" x2="575.0" y2="239.2" stroke="#3c3c3c" stroke-width="1"/>
<line x1="594.4" y1="237.2" x2="594.4" y2="240.2" stroke="#3c3c3c" stroke-width="1"/>
<text x="435.5" y="241.0" text-anchor="end" class="t">0</text>
<text x="435.5" y="221.9" text-anchor="end" class="t">2</text>
<text x="435.5" y="202.7" text-anchor="end" class="t">4</text>
<text x="435.5" y="183.6" text-anchor="end" class="t">6</text>
<text x="435.5" y="164.5" text-anchor="end" class="t">8</text>
<text x="435.5" y="145.3" text-anchor="end" class="t">10</text>
<text x="435.5" y="126.2" text-anchor="end" class="t">12</text>
<text x="440.0" y="249.3" text-anchor="middle" class="t">-1.0</text>
<text x="478.7" y="249.3" text-anchor="middle" class="t">-0.5</text>
<text x="517.5" y="249.3" text-anchor="middle" class="t">0.0</text>
<text x="556.2" y="249.3" text-anchor="middle" class="t">0.5</text>
<text x="594.9" y="249.3" text-anchor="middle" class="t">1.0</text>
<text transform="translate(396,136.2) scale(0.86,1)" class="lab">(d)</text>
<text x="587.5" y="135.8" text-anchor="end" class="t">H<tspan dy="3" font-size="8">2</tspan><tspan dy="-3">O</tspan></text>
<text x="589.5" y="149.9" text-anchor="end" class="t">Pretreatment</text>
<text x="480.5" y="262.8" class="t">E<tspan dy="3" font-size="6.5">CNP</tspan><tspan dy="-3"> (MV cm</tspan><tspan dy="-4.5" font-size="7">-1</tspan><tspan dy="4.5">)</tspan></text>
<text transform="translate(417.5,208.5) rotate(-90)" class="t">No. Devices</text>
</svg></body></html>
